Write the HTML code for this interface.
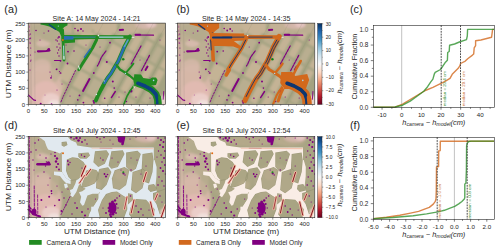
<!DOCTYPE html>
<html><head><meta charset="utf-8"><style>
html,body{margin:0;padding:0;background:#fff;width:500px;height:251px;overflow:hidden;}
svg{display:block;font-family:"Liberation Sans", sans-serif;}
</style></head><body>
<svg xmlns="http://www.w3.org/2000/svg" width="500" height="251" viewBox="0 0 500 251" font-family='"Liberation Sans", sans-serif'><defs><clipPath id="clip_a"><rect x="0" y="0" width="137.4" height="81.4"/></clipPath><filter id="mblur" x="-5%" y="-5%" width="110%" height="110%"><feGaussianBlur stdDeviation="0.4"/></filter><filter id="fblur" x="-10%" y="-10%" width="120%" height="120%"><feGaussianBlur stdDeviation="1.3"/></filter><clipPath id="clip_b"><rect x="0" y="0" width="137.4" height="81.4"/></clipPath><clipPath id="clip_d"><rect x="0" y="0" width="137.4" height="81.4"/></clipPath><mask id="wm_d" maskUnits="userSpaceOnUse" x="0" y="0" width="137.4" height="81.4"><polygon points="9.8,0.0 125.6,0.0 125.6,23.7 137.8,23.7 137.8,81.7 60.1,81.7 61.8,76.4 66.0,69.5 70.3,62.7 71.8,56.7 67.8,52.7 57.8,52.7 52.8,49.7 53.8,39.7 41.8,44.2 37.8,41.7 33.8,35.7 33.6,15.7 31.6,17.3 28.3,15.6 24.9,14.8 19.9,13.1 18.2,9.7 16.5,4.7" fill="#fff" /><polygon points="49.8,38.7 57.5,38.7 55.8,43.8 50.6,49.0 48.1,55.8 44.6,61.0 42.1,59.2 43.8,54.1 47.2,47.3" fill="#fff" /><polygon points="33.8,35.7 37.8,41.7 42.4,44.7 42.4,47.7 37.8,46.7 34.8,43.7 31.8,39.7 25.8,38.7 25.8,35.2" fill="#fff" /><polygon points="54.1,55.0 57.5,52.4 66.0,49.8 68.6,50.7 72.9,52.4 70.3,57.5 64.3,57.5 59.2,59.2 55.8,68.7 54.1,69.5 51.8,66.0 53.0,60.4 50.8,55.9" fill="#fff" /><polygon points="70.3,57.5 71.8,56.7 75.8,53.7 81.8,48.1 81.8,55.8 77.2,61.8 72.9,67.0 68.6,72.9 65.2,78.9 63.5,81.7 60.1,81.7 61.8,76.4 66.0,69.5 70.3,62.7" fill="#fff" /><polygon points="35.8,47.7 38.8,47.2 39.8,50.7 36.8,52.2" fill="#fff" /><polygon points="41.8,53.7 44.8,52.7 45.3,55.7 42.3,56.7" fill="#fff" /><polygon points="63.0,70.4 66.8,70.4 66.8,81.7 63.0,81.7" fill="#fff" /><polygon points="39.3,-2.3 127.8,-2.3 127.8,11.3 91.8,11.3 63.0,11.1 55.5,10.3 49.0,9.2 47.9,6.2 42.6,4.0 39.8,0.7" fill="#000" /><polygon points="126.0,-2.3 139.8,-2.3 139.8,69.7 134.8,69.7 130.8,62.7 128.8,56.7 127.3,49.7 128.3,39.7 128.4,30.7 126.3,23.7" fill="#000" /><polygon points="33.4,5.7 38.3,5.1 39.3,8.7 35.8,10.5 33.4,9.2" fill="#000" /><polygon points="50.1,16.9 60.3,16.1 61.8,19.2 58.3,22.5 51.8,22.2 50.1,20.2" fill="#000" /><polygon points="38.6,23.3 44.2,20.9 49.8,21.7 55.3,25.7 57.7,29.7 56.1,34.4 52.9,40.0 49.8,43.2 43.4,44.0 40.2,40.8 37.8,34.4 38.3,28.1" fill="#000" /><polygon points="57.7,34.4 63.3,32.8 68.1,33.7 70.5,36.8 69.7,42.4 66.5,47.2 60.9,49.6 56.1,51.2 52.9,50.4 54.5,45.6 56.9,39.2" fill="#000" /><polygon points="66.8,14.9 78.3,13.9 80.9,17.7 76.6,27.5 70.1,30.8 65.2,25.9" fill="#000" /><polygon points="71.1,32.6 79.9,31.0 83.2,35.7 78.3,48.7 73.4,53.7 67.8,52.0 68.3,42.2" fill="#000" /><polygon points="83.2,14.9 94.6,13.9 96.3,17.7 89.7,30.8 83.2,32.4 80.4,29.1" fill="#000" /><polygon points="86.5,34.0 96.3,30.8 101.2,34.0 97.9,48.7 91.4,53.7 84.8,52.0 83.7,42.2" fill="#000" /><polygon points="97.9,16.1 109.3,14.4 112.6,17.7 107.7,32.4 102.8,35.7 97.9,30.8" fill="#000" /><polygon points="104.4,35.7 114.3,32.4 118.3,35.7 114.3,52.0 107.7,56.9 102.8,53.7" fill="#000" /><polygon points="114.3,17.7 124.2,16.1 125.3,23.7 124.3,35.7 120.8,47.1 115.9,45.5 113.3,35.7" fill="#000" /><polygon points="120.3,48.7 125.8,47.7 128.3,51.7 128.2,54.1 122.3,55.7 119.6,52.7" fill="#000" /><polygon points="83.6,55.7 88.8,55.2 93.9,58.7 98.8,61.7 99.1,72.9 95.6,82.2 71.8,82.2 69.8,73.7 73.8,63.7 77.8,57.7" fill="#000" /><polygon points="107.6,62.7 117.9,63.5 126.5,72.9 124.8,82.2 104.2,82.2 100.8,78.1 102.5,71.2" fill="#000" /><polygon points="124.8,56.7 133.3,54.1 137.8,52.4 137.8,72.9 131.6,78.1 128.2,67.8 124.8,62.7" fill="#000" /><polygon points="99.8,57.0 104.3,57.7 104.8,63.7 99.8,68.2" fill="#000" /></mask><clipPath id="clip_e"><rect x="0" y="0" width="137.4" height="81.4"/></clipPath><mask id="wm_e" maskUnits="userSpaceOnUse" x="0" y="0" width="137.4" height="81.4"><polygon points="9.8,0.0 125.6,0.0 125.6,23.7 137.8,23.7 137.8,81.7 60.1,81.7 61.8,76.4 66.0,69.5 70.3,62.7 71.8,56.7 67.8,52.7 57.8,52.7 52.8,49.7 53.8,39.7 41.8,44.2 37.8,41.7 33.8,35.7 33.6,15.7 31.6,17.3 28.3,15.6 24.9,14.8 19.9,13.1 18.2,9.7 16.5,4.7" fill="#fff" /><polygon points="49.8,38.7 57.5,38.7 55.8,43.8 50.6,49.0 48.1,55.8 44.6,61.0 42.1,59.2 43.8,54.1 47.2,47.3" fill="#fff" /><polygon points="33.8,35.7 37.8,41.7 42.4,44.7 42.4,47.7 37.8,46.7 34.8,43.7 31.8,39.7 25.8,38.7 25.8,35.2" fill="#fff" /><polygon points="54.1,55.0 57.5,52.4 66.0,49.8 68.6,50.7 72.9,52.4 70.3,57.5 64.3,57.5 59.2,59.2 55.8,68.7 54.1,69.5 51.8,66.0 53.0,60.4 50.8,55.9" fill="#fff" /><polygon points="70.3,57.5 71.8,56.7 75.8,53.7 81.8,48.1 81.8,55.8 77.2,61.8 72.9,67.0 68.6,72.9 65.2,78.9 63.5,81.7 60.1,81.7 61.8,76.4 66.0,69.5 70.3,62.7" fill="#fff" /><polygon points="35.8,47.7 38.8,47.2 39.8,50.7 36.8,52.2" fill="#fff" /><polygon points="41.8,53.7 44.8,52.7 45.3,55.7 42.3,56.7" fill="#fff" /><polygon points="63.0,70.4 66.8,70.4 66.8,81.7 63.0,81.7" fill="#fff" /><polygon points="39.3,-2.3 127.8,-2.3 127.8,11.3 91.8,11.3 63.0,11.1 55.5,10.3 49.0,9.2 47.9,6.2 42.6,4.0 39.8,0.7" fill="#000" /><polygon points="126.0,-2.3 139.8,-2.3 139.8,69.7 134.8,69.7 130.8,62.7 128.8,56.7 127.3,49.7 128.3,39.7 128.4,30.7 126.3,23.7" fill="#000" /><polygon points="33.4,5.7 38.3,5.1 39.3,8.7 35.8,10.5 33.4,9.2" fill="#000" /><polygon points="50.1,16.9 60.3,16.1 61.8,19.2 58.3,22.5 51.8,22.2 50.1,20.2" fill="#000" /><polygon points="38.6,23.3 44.2,20.9 49.8,21.7 55.3,25.7 57.7,29.7 56.1,34.4 52.9,40.0 49.8,43.2 43.4,44.0 40.2,40.8 37.8,34.4 38.3,28.1" fill="#000" /><polygon points="57.7,34.4 63.3,32.8 68.1,33.7 70.5,36.8 69.7,42.4 66.5,47.2 60.9,49.6 56.1,51.2 52.9,50.4 54.5,45.6 56.9,39.2" fill="#000" /><polygon points="66.8,14.9 78.3,13.9 80.9,17.7 76.6,27.5 70.1,30.8 65.2,25.9" fill="#000" /><polygon points="71.1,32.6 79.9,31.0 83.2,35.7 78.3,48.7 73.4,53.7 67.8,52.0 68.3,42.2" fill="#000" /><polygon points="83.2,14.9 94.6,13.9 96.3,17.7 89.7,30.8 83.2,32.4 80.4,29.1" fill="#000" /><polygon points="86.5,34.0 96.3,30.8 101.2,34.0 97.9,48.7 91.4,53.7 84.8,52.0 83.7,42.2" fill="#000" /><polygon points="97.9,16.1 109.3,14.4 112.6,17.7 107.7,32.4 102.8,35.7 97.9,30.8" fill="#000" /><polygon points="104.4,35.7 114.3,32.4 118.3,35.7 114.3,52.0 107.7,56.9 102.8,53.7" fill="#000" /><polygon points="114.3,17.7 124.2,16.1 125.3,23.7 124.3,35.7 120.8,47.1 115.9,45.5 113.3,35.7" fill="#000" /><polygon points="120.3,48.7 125.8,47.7 128.3,51.7 128.2,54.1 122.3,55.7 119.6,52.7" fill="#000" /><polygon points="83.6,55.7 88.8,55.2 93.9,58.7 98.8,61.7 99.1,72.9 95.6,82.2 71.8,82.2 69.8,73.7 73.8,63.7 77.8,57.7" fill="#000" /><polygon points="107.6,62.7 117.9,63.5 126.5,72.9 124.8,82.2 104.2,82.2 100.8,78.1 102.5,71.2" fill="#000" /><polygon points="124.8,56.7 133.3,54.1 137.8,52.4 137.8,72.9 131.6,78.1 128.2,67.8 124.8,62.7" fill="#000" /><polygon points="99.8,57.0 104.3,57.7 104.8,63.7 99.8,68.2" fill="#000" /></mask><linearGradient id="cb23" x1="0" y1="1" x2="0" y2="0">
<stop offset="0" stop-color="#67001f"/><stop offset="0.1" stop-color="#b2182b"/><stop offset="0.2" stop-color="#d6604d"/>
<stop offset="0.3" stop-color="#f4a582"/><stop offset="0.4" stop-color="#fddbc7"/><stop offset="0.5" stop-color="#f7f7f7"/>
<stop offset="0.6" stop-color="#d1e5f0"/><stop offset="0.7" stop-color="#92c5de"/><stop offset="0.8" stop-color="#4393c3"/>
<stop offset="0.9" stop-color="#2166ac"/><stop offset="1" stop-color="#053061"/></linearGradient><linearGradient id="cb136" x1="0" y1="1" x2="0" y2="0">
<stop offset="0" stop-color="#67001f"/><stop offset="0.1" stop-color="#b2182b"/><stop offset="0.2" stop-color="#d6604d"/>
<stop offset="0.3" stop-color="#f4a582"/><stop offset="0.4" stop-color="#fddbc7"/><stop offset="0.5" stop-color="#f7f7f7"/>
<stop offset="0.6" stop-color="#d1e5f0"/><stop offset="0.7" stop-color="#92c5de"/><stop offset="0.8" stop-color="#4393c3"/>
<stop offset="0.9" stop-color="#2166ac"/><stop offset="1" stop-color="#053061"/></linearGradient></defs><g transform="translate(28.20,23.10)" clip-path="url(#clip_a)"><g filter="url(#mblur)"><rect x="0" y="0" width="137.4" height="81.4" fill="#a3a281"/>
<g filter="url(#fblur)"><polygon points="74.8,-29.3 85.2,-23.6 77.1,-8.6 66.7,-14.3" fill="#b9ae90" /><polygon points="65.6,-12.3 76.0,-6.6 67.9,8.4 57.5,2.7" fill="#c4b395" /><polygon points="56.4,4.7 66.8,10.4 58.6,25.7 48.2,20.0" fill="#c4b395" /><polygon points="47.1,22.0 57.5,27.7 49.2,43.0 38.8,37.3" fill="#b9ae90" /><polygon points="37.7,39.3 48.1,45.0 39.9,60.3 29.5,54.6" fill="#c4b395" /><polygon points="28.4,56.6 38.8,62.3 30.5,77.6 20.1,71.9" fill="#c4b395" /><polygon points="89.2,-21.4 98.6,-16.2 90.5,-1.2 81.1,-6.4" fill="#c4b395" /><polygon points="80.0,-4.4 89.4,0.8 81.3,15.8 71.9,10.6" fill="#c4b395" /><polygon points="70.8,12.6 80.2,17.8 72.0,33.1 62.6,27.9" fill="#b9ae90" /><polygon points="61.5,29.9 70.9,35.1 62.6,50.4 53.2,45.2" fill="#c4b395" /><polygon points="52.1,47.2 61.5,52.4 53.3,67.7 43.9,62.5" fill="#c4b395" /><polygon points="42.8,64.5 52.2,69.7 43.9,85.0 34.5,79.8" fill="#b9ae90" /><polygon points="102.6,-14.0 113.2,-8.2 105.1,6.8 94.5,1.0" fill="#c4b395" /><polygon points="93.4,3.0 104.0,8.8 95.9,23.8 85.3,18.0" fill="#b9ae90" /><polygon points="84.2,20.0 94.8,25.8 86.6,41.1 76.0,35.3" fill="#c4b395" /><polygon points="74.9,37.3 85.5,43.1 77.2,58.4 66.6,52.6" fill="#c4b395" /><polygon points="65.5,54.6 76.1,60.4 67.9,75.7 57.3,69.9" fill="#b9ae90" /><polygon points="56.2,71.9 66.8,77.7 58.5,93.0 47.9,87.2" fill="#c4b395" /><polygon points="117.2,-6.0 123.8,-2.4 115.7,12.6 109.1,9.0" fill="#b9ae90" /><polygon points="108.0,11.0 114.6,14.6 106.5,29.6 99.9,26.0" fill="#c4b395" /><polygon points="98.8,28.0 105.4,31.6 97.2,46.9 90.6,43.3" fill="#c4b395" /><polygon points="89.5,45.3 96.1,48.9 87.8,64.2 81.2,60.6" fill="#b9ae90" /><polygon points="80.1,62.6 86.7,66.2 78.5,81.5 71.9,77.9" fill="#c4b395" /><polygon points="70.8,79.9 77.4,83.5 69.1,98.8 62.5,95.2" fill="#c4b395" /><polygon points="127.8,-0.2 134.4,3.5 126.3,18.5 119.7,14.8" fill="#c4b395" /><polygon points="118.6,16.8 125.2,20.5 117.1,35.5 110.5,31.8" fill="#c4b395" /><polygon points="109.4,33.8 116.0,37.5 107.8,52.8 101.2,49.1" fill="#b9ae90" /><polygon points="100.1,51.1 106.7,54.8 98.4,70.1 91.8,66.4" fill="#c4b395" /><polygon points="90.7,68.4 97.3,72.1 89.1,87.4 82.5,83.7" fill="#c4b395" /><polygon points="81.4,85.7 88.0,89.4 79.7,104.7 73.1,101.0" fill="#b9ae90" /><polygon points="138.4,5.7 144.8,9.2 136.7,24.2 130.3,20.7" fill="#c4b395" /><polygon points="129.2,22.7 135.6,26.2 127.5,41.2 121.1,37.7" fill="#b9ae90" /><polygon points="120.0,39.7 126.4,43.2 118.2,58.5 111.8,55.0" fill="#c4b395" /><polygon points="110.7,57.0 117.1,60.5 108.8,75.8 102.4,72.3" fill="#c4b395" /><polygon points="101.3,74.3 107.7,77.8 99.5,93.1 93.1,89.6" fill="#b9ae90" /><polygon points="92.0,91.6 98.4,95.1 90.1,110.4 83.7,106.9" fill="#c4b395" /><polygon points="148.8,11.4 155.2,14.9 147.1,29.9 140.7,26.4" fill="#b9ae90" /><polygon points="139.6,28.4 146.0,31.9 137.9,46.9 131.5,43.4" fill="#c4b395" /><polygon points="130.4,45.4 136.8,48.9 128.6,64.2 122.2,60.7" fill="#c4b395" /><polygon points="121.1,62.7 127.5,66.2 119.2,81.5 112.8,78.0" fill="#b9ae90" /><polygon points="111.7,80.0 118.1,83.5 109.9,98.8 103.5,95.3" fill="#c4b395" /><polygon points="102.4,97.3 108.8,100.8 100.5,116.1 94.1,112.6" fill="#c4b395" /><polygon points="33.8,-2.1 43.8,-2.1 43.8,10.4 33.8,10.4" fill="#bfae90" /><polygon points="45.8,-2.1 63.8,-2.1 63.8,10.4 45.8,10.4" fill="#c2b092" /><polygon points="65.8,-2.1 88.8,-2.1 88.8,10.4 65.8,10.4" fill="#c6b396" /><polygon points="91.8,-2.1 110.8,-2.1 110.8,10.4 91.8,10.4" fill="#c3b195" /><polygon points="113.8,-2.1 137.8,-2.1 137.8,10.4 113.8,10.4" fill="#bcae92" /><polygon points="-10.2,-5.1 29.8,-5.1 32.8,10.9 31.8,36.9 29.8,56.9 31.8,86.9 -10.2,86.9" fill="#bcae92" /><ellipse cx="15.8" cy="64.9" rx="18" ry="24" fill="#d8b8aa" opacity="0.9"/><ellipse cx="17.8" cy="71.9" rx="14" ry="14" fill="#e2bab2" opacity="0.9"/><ellipse cx="22.8" cy="76.9" rx="9" ry="7" fill="#ecd0cc" opacity="0.9"/><ellipse cx="25.8" cy="80.9" rx="6" ry="4" fill="#f2e2de" opacity="0.9"/><ellipse cx="13.8" cy="42.9" rx="9" ry="7" fill="#d6b8aa" opacity="0.8"/><ellipse cx="14.8" cy="20.4" rx="7" ry="3.5" fill="#dabcb0" opacity="0.85"/><ellipse cx="2.8" cy="46.9" rx="4" ry="30" fill="#d4b8aa" opacity="0.7"/><ellipse cx="21.8" cy="11.9" rx="9" ry="7" fill="#b2aa8c" opacity="0.7"/><ellipse cx="26.8" cy="46.9" rx="5" ry="12" fill="#b4aa8c" opacity="0.6"/><ellipse cx="13.8" cy="6.9" rx="12" ry="6" fill="#b4ab8d" opacity="0.7"/><ellipse cx="117.8" cy="1.9" rx="11" ry="4" fill="#dab8b0" opacity="0.8"/><ellipse cx="122.8" cy="1.4" rx="5" ry="3" fill="#e6c4c2" opacity="0.9"/><ellipse cx="135.3" cy="77.9" rx="3.5" ry="6" fill="#ecd8d4" opacity="0.9"/></g>
<rect x="0" y="0" width="2.4" height="81.4" fill="#c8ab9e" opacity="0.8"/>
<polyline points="6.3,-0.1 6.8,81.9" fill="none" stroke="#9a8a7e" stroke-width="0.45" stroke-linecap="round" stroke-linejoin="round" opacity="0.6"/>
<polyline points="2.8,-0.1 3.1,81.9" fill="none" stroke="#9a8a7e" stroke-width="0.45" stroke-linecap="round" stroke-linejoin="round" opacity="0.6"/>
<polyline points="87.7,-23.5 32.0,79.7" fill="none" stroke="#8d8c6c" stroke-width="0.4" stroke-linecap="round" stroke-linejoin="round" opacity="0.5"/>
<polyline points="101.1,-16.1 45.4,87.1" fill="none" stroke="#8d8c6c" stroke-width="0.4" stroke-linecap="round" stroke-linejoin="round" opacity="0.5"/>
<polyline points="115.7,-8.1 60.0,95.1" fill="none" stroke="#8d8c6c" stroke-width="0.4" stroke-linecap="round" stroke-linejoin="round" opacity="0.5"/>
<polyline points="126.3,-2.3 70.6,100.9" fill="none" stroke="#8d8c6c" stroke-width="0.4" stroke-linecap="round" stroke-linejoin="round" opacity="0.5"/>
<polyline points="136.9,3.6 81.2,106.8" fill="none" stroke="#8d8c6c" stroke-width="0.4" stroke-linecap="round" stroke-linejoin="round" opacity="0.5"/>
<polyline points="147.3,9.3 91.6,112.5" fill="none" stroke="#8d8c6c" stroke-width="0.4" stroke-linecap="round" stroke-linejoin="round" opacity="0.5"/>
<circle cx="7.8" cy="7.4" r="0.8" fill="#800080" />
<circle cx="20.3" cy="7.9" r="0.8" fill="#800080" />
<circle cx="30.8" cy="13.9" r="0.9" fill="#800080" />
<circle cx="1.8" cy="15.5" r="0.7" fill="#800080" />
<circle cx="20.8" cy="25.9" r="0.9" fill="#800080" />
<circle cx="46.8" cy="5.4" r="0.8" fill="#800080" />
<circle cx="49.8" cy="7.4" r="0.9" fill="#800080" />
<circle cx="52.8" cy="5.9" r="1.0" fill="#800080" />
<circle cx="54.8" cy="7.9" r="0.7" fill="#800080" />
<circle cx="81.8" cy="19.6" r="0.9" fill="#800080" />
<circle cx="28.3" cy="46.3" r="0.8" fill="#800080" />
<circle cx="32.1" cy="49.9" r="0.8" fill="#800080" />
<circle cx="39.8" cy="28.5" r="0.9" fill="#800080" />
<circle cx="45.8" cy="27.9" r="0.8" fill="#800080" />
<circle cx="39.3" cy="40.4" r="0.9" fill="#800080" />
<circle cx="32.3" cy="37.7" r="0.9" fill="#800080" />
<circle cx="78.6" cy="38.9" r="1.0" fill="#800080" />
<circle cx="65.6" cy="49.9" r="0.9" fill="#800080" />
<circle cx="84.6" cy="58.4" r="1.0" fill="#800080" />
<circle cx="86.0" cy="65.0" r="0.8" fill="#800080" />
<circle cx="76.5" cy="75.1" r="0.8" fill="#800080" />
<circle cx="98.2" cy="78.4" r="0.8" fill="#800080" />
<circle cx="65.8" cy="79.6" r="1.0" fill="#800080" />
<circle cx="51.3" cy="72.3" r="0.9" fill="#800080" />
<circle cx="49.6" cy="76.8" r="0.8" fill="#800080" />
<circle cx="55.2" cy="79.5" r="0.9" fill="#800080" />
<circle cx="65.3" cy="77.9" r="1.0" fill="#800080" />
<circle cx="102.8" cy="67.9" r="1.5" fill="#800080" />
<circle cx="22.8" cy="54.7" r="0.9" fill="#800080" />
<circle cx="12.5" cy="80.7" r="1.0" fill="#800080" />
<circle cx="23.3" cy="80.9" r="0.8" fill="#800080" />
<circle cx="15.8" cy="9.9" r="0.5" fill="#800080" />
<circle cx="11.8" cy="16.9" r="0.5" fill="#800080" />
<circle cx="37.8" cy="21.9" r="0.5" fill="#800080" />
<circle cx="57.8" cy="21.9" r="0.5" fill="#800080" />
<circle cx="71.8" cy="23.9" r="0.5" fill="#800080" />
<circle cx="111.8" cy="36.9" r="0.5" fill="#800080" />
<circle cx="121.8" cy="54.9" r="0.5" fill="#800080" />
<circle cx="96.8" cy="68.9" r="0.5" fill="#800080" />
<circle cx="131.8" cy="16.9" r="0.5" fill="#800080" />
<circle cx="1.8" cy="46.9" r="0.6" fill="#800080" />
<circle cx="2.8" cy="36.9" r="0.5" fill="#800080" />
<circle cx="6.8" cy="28.9" r="0.5" fill="#800080" />
<circle cx="16.8" cy="71.9" r="0.4" fill="#800080" />
<circle cx="28.8" cy="66.9" r="0.5" fill="#800080" />
<circle cx="41.8" cy="72.9" r="0.5" fill="#800080" />
<circle cx="33.8" cy="60.9" r="0.5" fill="#800080" />
<circle cx="90.8" cy="73.9" r="0.6" fill="#800080" />
<circle cx="107.8" cy="73.9" r="0.6" fill="#800080" />
<circle cx="121.8" cy="74.9" r="0.6" fill="#800080" />
<circle cx="29.8" cy="14.9" r="0.65" fill="#800080" />
<circle cx="29.1" cy="17.9" r="0.65" fill="#800080" />
<circle cx="30.8" cy="20.9" r="0.65" fill="#800080" />
<circle cx="28.8" cy="23.9" r="0.65" fill="#800080" />
<circle cx="30.4" cy="26.9" r="0.65" fill="#800080" />
<circle cx="29.4" cy="29.9" r="0.65" fill="#800080" />
<circle cx="30.8" cy="32.9" r="0.65" fill="#800080" />
<circle cx="27.8" cy="16.9" r="0.65" fill="#800080" />
<circle cx="31.8" cy="24.9" r="0.65" fill="#800080" />
<circle cx="2.3" cy="10.9" r="0.6" fill="#800080" />
<circle cx="2.4" cy="14.9" r="0.6" fill="#800080" />
<circle cx="2.2" cy="19.9" r="0.6" fill="#800080" />
<circle cx="2.5" cy="24.9" r="0.6" fill="#800080" />
<circle cx="2.3" cy="31.9" r="0.6" fill="#800080" />
<circle cx="2.4" cy="37.9" r="0.6" fill="#800080" />
<polyline points="9.8,28.2 17.8,27.9 21.3,27.4" fill="none" stroke="#800080" stroke-width="2.2" stroke-linecap="round" stroke-linejoin="round" />
<circle cx="20.3" cy="26.7" r="1.5" fill="#800080" />
<polyline points="107.3,11.9 125.3,12.1" fill="none" stroke="#800080" stroke-width="1.2" stroke-linecap="round" stroke-linejoin="round" />
<polyline points="107.3,11.7 111.8,11.7" fill="none" stroke="#800080" stroke-width="2.0" stroke-linecap="round" stroke-linejoin="round" />
<polyline points="112.8,22.9 110.6,26.9 103.0,40.9" fill="none" stroke="#800080" stroke-width="1.2" stroke-linecap="round" stroke-linejoin="round" stroke-dasharray="2.5,1.2"/>
<polyline points="121.3,32.3 112.8,48.4" fill="none" stroke="#800080" stroke-width="1.2" stroke-linecap="round" stroke-linejoin="round" stroke-dasharray="2.5,1.2"/>
<polyline points="119.3,43.4 117.3,46.9" fill="none" stroke="#800080" stroke-width="2.0" stroke-linecap="round" stroke-linejoin="round" />
<polyline points="77.8,27.9 73.3,33.9 70.3,40.9 69.1,42.9" fill="none" stroke="#800080" stroke-width="1.2" stroke-linecap="round" stroke-linejoin="round" stroke-dasharray="3,1"/>
<polyline points="61.3,55.9 54.8,67.9" fill="none" stroke="#800080" stroke-width="1.9" stroke-linecap="round" stroke-linejoin="round" />
<polyline points="47.3,47.4 41.8,58.9 35.0,73.4 32.3,79.9" fill="none" stroke="#800080" stroke-width="0.9" stroke-linecap="round" stroke-linejoin="round" stroke-dasharray="1.6,1.4"/>
<circle cx="21.8" cy="48.9" r="0.6" fill="#800080" />
<circle cx="23.3" cy="52.9" r="0.6" fill="#800080" />
<circle cx="28.8" cy="45.9" r="0.6" fill="#800080" />
<circle cx="31.3" cy="48.4" r="0.6" fill="#800080" />
<circle cx="32.8" cy="49.9" r="0.6" fill="#800080" />
<polyline points="87.1,68.4 83.2,74.5" fill="none" stroke="#800080" stroke-width="1.4" stroke-linecap="round" stroke-linejoin="round" />
<polyline points="-0.2,71.7 3.1,74.5 5.4,76.8 7.3,77.3" fill="none" stroke="#800080" stroke-width="1.2" stroke-linecap="round" stroke-linejoin="round" />
<polyline points="26.3,37.4 32.3,37.4" fill="none" stroke="#800080" stroke-width="1.2" stroke-linecap="round" stroke-linejoin="round" />
<polyline points="135.5,68.4 135.0,76.2" fill="none" stroke="#800080" stroke-width="0.9" stroke-linecap="round" stroke-linejoin="round" />
<polyline points="94.8,6.7 91.6,6.9" fill="none" stroke="#800080" stroke-width="2.0" stroke-linecap="round" stroke-linejoin="round" />
<polyline points="1.3,2.9 1.5,21.9" fill="none" stroke="#800080" stroke-width="0.5" stroke-linecap="round" stroke-linejoin="round" stroke-dasharray="1.5,2.5" opacity="0.7"/>
<polygon points="12.3,-0.1 39.3,-0.1 39.3,2.1 36.1,3.9 34.2,5.9 34.0,9.9 34.4,12.9 32.9,12.9 31.1,9.0 28.3,7.2 25.6,5.8 21.0,3.5 16.4,2.1 12.3,1.5" fill="#228b22" />
<polyline points="21.0,1.5 27.4,6.2" fill="none" stroke="#0d3f80" stroke-width="1.3" stroke-linecap="round" stroke-linejoin="round" />
<circle cx="30.1" cy="3.0" r="0.6" fill="#a8d4ea" />
<polyline points="34.4,6.9 35.1,21.9 35.8,36.9" fill="none" stroke="#228b22" stroke-width="2.8" stroke-linecap="round" stroke-linejoin="round" />
<polyline points="35.4,22.9 35.8,35.9" fill="none" stroke="#a8d4ea" stroke-width="1.0" stroke-linecap="round" stroke-linejoin="round" />
<polyline points="35.7,33.4 35.8,36.1" fill="none" stroke="#f2f2f2" stroke-width="0.9" stroke-linecap="round" stroke-linejoin="round" />
<polygon points="33.3,11.9 102.8,12.1 103.3,15.7 66.8,15.8 46.8,16.5 46.8,19.4 36.8,20.1 33.3,17.9" fill="#228b22" />
<polygon points="35.8,12.9 45.3,13.1 45.3,16.5 35.8,16.7" fill="#2a6db5" />
<polyline points="45.3,14.1 67.8,14.0" fill="none" stroke="#3d86c6" stroke-width="0.8" stroke-linecap="round" stroke-linejoin="round" />
<polyline points="71.3,14.0 94.8,14.0" fill="none" stroke="#a8d4ea" stroke-width="1.2" stroke-linecap="round" stroke-linejoin="round" />
<polyline points="101.3,14.2 105.8,14.2" fill="none" stroke="#f0f0f0" stroke-width="0.9" stroke-linecap="round" stroke-linejoin="round" />
<circle cx="70.2" cy="12.5" r="0.8" fill="#f0f0f0" />
<polyline points="68.8,14.4 68.3,16.9 64.3,24.9 58.6,33.9 54.1,40.8 50.7,46.5" fill="none" stroke="#228b22" stroke-width="3.0" stroke-linecap="round" stroke-linejoin="round" />
<polyline points="62.0,26.0 56.3,34.0" fill="none" stroke="#2a6db5" stroke-width="1.6" stroke-linecap="round" stroke-linejoin="round" />
<polyline points="50.4,42.9 51.2,45.9" fill="none" stroke="#eef4f6" stroke-width="1.0" stroke-linecap="round" stroke-linejoin="round" />
<polyline points="101.8,13.4 100.4,15.9 96.1,23.9 90.1,37.9 82.8,50.4 79.3,54.9 76.3,59.9 72.6,66.9 69.6,72.9 67.6,77.4" fill="none" stroke="#228b22" stroke-width="3.9" stroke-linecap="round" stroke-linejoin="round" />
<polyline points="96.3,23.4 90.1,37.9 82.8,50.4 79.3,54.9 76.3,59.9" fill="none" stroke="#2a6db5" stroke-width="2.4" stroke-linecap="round" stroke-linejoin="round" />
<polyline points="99.8,16.9 96.3,23.4" fill="none" stroke="#5a9ac8" stroke-width="1.6" stroke-linecap="round" stroke-linejoin="round" />
<circle cx="76.0" cy="57.9" r="0.7" fill="#8fd0ee" />
<circle cx="68.2" cy="71.4" r="0.7" fill="#d8ecf0" />
<polyline points="88.3,41.9 91.8,46.4 96.8,49.4 101.8,52.9 106.1,56.6 109.7,58.4" fill="none" stroke="#228b22" stroke-width="2.2" stroke-linecap="round" stroke-linejoin="round" />
<polyline points="97.2,50.3 102.6,44.1 105.2,40.5" fill="none" stroke="#228b22" stroke-width="1.8" stroke-linecap="round" stroke-linejoin="round" />
<circle cx="97.2" cy="50.3" r="0.7" fill="#a8d4ea" />
<polyline points="106.1,62.0 101.8,67.9 99.0,72.7 95.4,81.9" fill="none" stroke="#228b22" stroke-width="1.6" stroke-linecap="round" stroke-linejoin="round" />
<polyline points="105.6,62.9 106.3,64.9" fill="none" stroke="#f0f0f0" stroke-width="0.8" stroke-linecap="round" stroke-linejoin="round" />
<polygon points="106.1,51.2 112.8,51.4 115.1,54.9 121.8,55.9 123.8,54.4 127.8,54.4 129.4,56.9 127.8,61.9 119.8,62.9 115.1,62.0 107.8,62.9 105.3,58.9" fill="#228b22" />
<circle cx="125.4" cy="57.3" r="0.8" fill="#a8d4ea" />
<polyline points="109.7,60.2 116.8,62.9 123.2,66.5 127.6,70.9 129.4,76.3 129.8,82.9" fill="none" stroke="#228b22" stroke-width="7.2" stroke-linecap="round" stroke-linejoin="round" />
<polyline points="109.7,60.2 116.8,62.9 123.2,66.5 127.6,70.9 129.4,76.3 129.8,82.9" fill="none" stroke="#0d3f80" stroke-width="3.6" stroke-linecap="round" stroke-linejoin="round" />
<polyline points="131.3,73.9 132.0,81.9" fill="none" stroke="#228b22" stroke-width="3.0" stroke-linecap="round" stroke-linejoin="round" />
<circle cx="95.0" cy="36.1" r="1.3" fill="#228b22" />
<circle cx="95.0" cy="36.1" r="0.5" fill="#1a5a1a" />
<circle cx="34.6" cy="16.9" r="1.0" fill="#e06a10" /></g></g>
<g transform="translate(177.40,23.10)" clip-path="url(#clip_b)"><g filter="url(#mblur)"><rect x="0" y="0" width="137.4" height="81.4" fill="#a3a281"/>
<g filter="url(#fblur)"><polygon points="74.8,-29.3 85.2,-23.6 77.1,-8.6 66.7,-14.3" fill="#b9ae90" /><polygon points="65.6,-12.3 76.0,-6.6 67.9,8.4 57.5,2.7" fill="#c4b395" /><polygon points="56.4,4.7 66.8,10.4 58.6,25.7 48.2,20.0" fill="#c4b395" /><polygon points="47.1,22.0 57.5,27.7 49.2,43.0 38.8,37.3" fill="#b9ae90" /><polygon points="37.7,39.3 48.1,45.0 39.9,60.3 29.5,54.6" fill="#c4b395" /><polygon points="28.4,56.6 38.8,62.3 30.5,77.6 20.1,71.9" fill="#c4b395" /><polygon points="89.2,-21.4 98.6,-16.2 90.5,-1.2 81.1,-6.4" fill="#c4b395" /><polygon points="80.0,-4.4 89.4,0.8 81.3,15.8 71.9,10.6" fill="#c4b395" /><polygon points="70.8,12.6 80.2,17.8 72.0,33.1 62.6,27.9" fill="#b9ae90" /><polygon points="61.5,29.9 70.9,35.1 62.6,50.4 53.2,45.2" fill="#c4b395" /><polygon points="52.1,47.2 61.5,52.4 53.3,67.7 43.9,62.5" fill="#c4b395" /><polygon points="42.8,64.5 52.2,69.7 43.9,85.0 34.5,79.8" fill="#b9ae90" /><polygon points="102.6,-14.0 113.2,-8.2 105.1,6.8 94.5,1.0" fill="#c4b395" /><polygon points="93.4,3.0 104.0,8.8 95.9,23.8 85.3,18.0" fill="#b9ae90" /><polygon points="84.2,20.0 94.8,25.8 86.6,41.1 76.0,35.3" fill="#c4b395" /><polygon points="74.9,37.3 85.5,43.1 77.2,58.4 66.6,52.6" fill="#c4b395" /><polygon points="65.5,54.6 76.1,60.4 67.9,75.7 57.3,69.9" fill="#b9ae90" /><polygon points="56.2,71.9 66.8,77.7 58.5,93.0 47.9,87.2" fill="#c4b395" /><polygon points="117.2,-6.0 123.8,-2.4 115.7,12.6 109.1,9.0" fill="#b9ae90" /><polygon points="108.0,11.0 114.6,14.6 106.5,29.6 99.9,26.0" fill="#c4b395" /><polygon points="98.8,28.0 105.4,31.6 97.2,46.9 90.6,43.3" fill="#c4b395" /><polygon points="89.5,45.3 96.1,48.9 87.8,64.2 81.2,60.6" fill="#b9ae90" /><polygon points="80.1,62.6 86.7,66.2 78.5,81.5 71.9,77.9" fill="#c4b395" /><polygon points="70.8,79.9 77.4,83.5 69.1,98.8 62.5,95.2" fill="#c4b395" /><polygon points="127.8,-0.2 134.4,3.5 126.3,18.5 119.7,14.8" fill="#c4b395" /><polygon points="118.6,16.8 125.2,20.5 117.1,35.5 110.5,31.8" fill="#c4b395" /><polygon points="109.4,33.8 116.0,37.5 107.8,52.8 101.2,49.1" fill="#b9ae90" /><polygon points="100.1,51.1 106.7,54.8 98.4,70.1 91.8,66.4" fill="#c4b395" /><polygon points="90.7,68.4 97.3,72.1 89.1,87.4 82.5,83.7" fill="#c4b395" /><polygon points="81.4,85.7 88.0,89.4 79.7,104.7 73.1,101.0" fill="#b9ae90" /><polygon points="138.4,5.7 144.8,9.2 136.7,24.2 130.3,20.7" fill="#c4b395" /><polygon points="129.2,22.7 135.6,26.2 127.5,41.2 121.1,37.7" fill="#b9ae90" /><polygon points="120.0,39.7 126.4,43.2 118.2,58.5 111.8,55.0" fill="#c4b395" /><polygon points="110.7,57.0 117.1,60.5 108.8,75.8 102.4,72.3" fill="#c4b395" /><polygon points="101.3,74.3 107.7,77.8 99.5,93.1 93.1,89.6" fill="#b9ae90" /><polygon points="92.0,91.6 98.4,95.1 90.1,110.4 83.7,106.9" fill="#c4b395" /><polygon points="148.8,11.4 155.2,14.9 147.1,29.9 140.7,26.4" fill="#b9ae90" /><polygon points="139.6,28.4 146.0,31.9 137.9,46.9 131.5,43.4" fill="#c4b395" /><polygon points="130.4,45.4 136.8,48.9 128.6,64.2 122.2,60.7" fill="#c4b395" /><polygon points="121.1,62.7 127.5,66.2 119.2,81.5 112.8,78.0" fill="#b9ae90" /><polygon points="111.7,80.0 118.1,83.5 109.9,98.8 103.5,95.3" fill="#c4b395" /><polygon points="102.4,97.3 108.8,100.8 100.5,116.1 94.1,112.6" fill="#c4b395" /><polygon points="33.8,-2.1 43.8,-2.1 43.8,10.4 33.8,10.4" fill="#bfae90" /><polygon points="45.8,-2.1 63.8,-2.1 63.8,10.4 45.8,10.4" fill="#c2b092" /><polygon points="65.8,-2.1 88.8,-2.1 88.8,10.4 65.8,10.4" fill="#c6b396" /><polygon points="91.8,-2.1 110.8,-2.1 110.8,10.4 91.8,10.4" fill="#c3b195" /><polygon points="113.8,-2.1 137.8,-2.1 137.8,10.4 113.8,10.4" fill="#bcae92" /><polygon points="-10.2,-5.1 29.8,-5.1 32.8,10.9 31.8,36.9 29.8,56.9 31.8,86.9 -10.2,86.9" fill="#bcae92" /><ellipse cx="15.8" cy="64.9" rx="18" ry="24" fill="#d8b8aa" opacity="0.9"/><ellipse cx="17.8" cy="71.9" rx="14" ry="14" fill="#e2bab2" opacity="0.9"/><ellipse cx="22.8" cy="76.9" rx="9" ry="7" fill="#ecd0cc" opacity="0.9"/><ellipse cx="25.8" cy="80.9" rx="6" ry="4" fill="#f2e2de" opacity="0.9"/><ellipse cx="13.8" cy="42.9" rx="9" ry="7" fill="#d6b8aa" opacity="0.8"/><ellipse cx="14.8" cy="20.4" rx="7" ry="3.5" fill="#dabcb0" opacity="0.85"/><ellipse cx="2.8" cy="46.9" rx="4" ry="30" fill="#d4b8aa" opacity="0.7"/><ellipse cx="21.8" cy="11.9" rx="9" ry="7" fill="#b2aa8c" opacity="0.7"/><ellipse cx="26.8" cy="46.9" rx="5" ry="12" fill="#b4aa8c" opacity="0.6"/><ellipse cx="13.8" cy="6.9" rx="12" ry="6" fill="#b4ab8d" opacity="0.7"/><ellipse cx="117.8" cy="1.9" rx="11" ry="4" fill="#dab8b0" opacity="0.8"/><ellipse cx="122.8" cy="1.4" rx="5" ry="3" fill="#e6c4c2" opacity="0.9"/><ellipse cx="135.3" cy="77.9" rx="3.5" ry="6" fill="#ecd8d4" opacity="0.9"/></g>
<rect x="0" y="0" width="2.4" height="81.4" fill="#c8ab9e" opacity="0.8"/>
<polyline points="6.3,-0.1 6.8,81.9" fill="none" stroke="#9a8a7e" stroke-width="0.45" stroke-linecap="round" stroke-linejoin="round" opacity="0.6"/>
<polyline points="2.8,-0.1 3.1,81.9" fill="none" stroke="#9a8a7e" stroke-width="0.45" stroke-linecap="round" stroke-linejoin="round" opacity="0.6"/>
<polyline points="87.7,-23.5 32.0,79.7" fill="none" stroke="#8d8c6c" stroke-width="0.4" stroke-linecap="round" stroke-linejoin="round" opacity="0.5"/>
<polyline points="101.1,-16.1 45.4,87.1" fill="none" stroke="#8d8c6c" stroke-width="0.4" stroke-linecap="round" stroke-linejoin="round" opacity="0.5"/>
<polyline points="115.7,-8.1 60.0,95.1" fill="none" stroke="#8d8c6c" stroke-width="0.4" stroke-linecap="round" stroke-linejoin="round" opacity="0.5"/>
<polyline points="126.3,-2.3 70.6,100.9" fill="none" stroke="#8d8c6c" stroke-width="0.4" stroke-linecap="round" stroke-linejoin="round" opacity="0.5"/>
<polyline points="136.9,3.6 81.2,106.8" fill="none" stroke="#8d8c6c" stroke-width="0.4" stroke-linecap="round" stroke-linejoin="round" opacity="0.5"/>
<polyline points="147.3,9.3 91.6,112.5" fill="none" stroke="#8d8c6c" stroke-width="0.4" stroke-linecap="round" stroke-linejoin="round" opacity="0.5"/>
<circle cx="7.8" cy="7.4" r="0.8" fill="#800080" />
<circle cx="20.3" cy="7.9" r="0.8" fill="#800080" />
<circle cx="30.8" cy="13.9" r="0.9" fill="#800080" />
<circle cx="1.8" cy="15.5" r="0.7" fill="#800080" />
<circle cx="20.8" cy="25.9" r="0.9" fill="#800080" />
<circle cx="46.8" cy="5.4" r="0.8" fill="#800080" />
<circle cx="49.8" cy="7.4" r="0.9" fill="#800080" />
<circle cx="52.8" cy="5.9" r="1.0" fill="#800080" />
<circle cx="54.8" cy="7.9" r="0.7" fill="#800080" />
<circle cx="81.8" cy="19.6" r="0.9" fill="#800080" />
<circle cx="28.3" cy="46.3" r="0.8" fill="#800080" />
<circle cx="32.1" cy="49.9" r="0.8" fill="#800080" />
<circle cx="39.8" cy="28.5" r="0.9" fill="#800080" />
<circle cx="45.8" cy="27.9" r="0.8" fill="#800080" />
<circle cx="39.3" cy="40.4" r="0.9" fill="#800080" />
<circle cx="32.3" cy="37.7" r="0.9" fill="#800080" />
<circle cx="78.6" cy="38.9" r="1.0" fill="#800080" />
<circle cx="65.6" cy="49.9" r="0.9" fill="#800080" />
<circle cx="84.6" cy="58.4" r="1.0" fill="#800080" />
<circle cx="86.0" cy="65.0" r="0.8" fill="#800080" />
<circle cx="76.5" cy="75.1" r="0.8" fill="#800080" />
<circle cx="98.2" cy="78.4" r="0.8" fill="#800080" />
<circle cx="65.8" cy="79.6" r="1.0" fill="#800080" />
<circle cx="51.3" cy="72.3" r="0.9" fill="#800080" />
<circle cx="49.6" cy="76.8" r="0.8" fill="#800080" />
<circle cx="55.2" cy="79.5" r="0.9" fill="#800080" />
<circle cx="65.3" cy="77.9" r="1.0" fill="#800080" />
<circle cx="102.8" cy="67.9" r="1.5" fill="#800080" />
<circle cx="22.8" cy="54.7" r="0.9" fill="#800080" />
<circle cx="12.5" cy="80.7" r="1.0" fill="#800080" />
<circle cx="23.3" cy="80.9" r="0.8" fill="#800080" />
<circle cx="15.8" cy="9.9" r="0.5" fill="#800080" />
<circle cx="11.8" cy="16.9" r="0.5" fill="#800080" />
<circle cx="37.8" cy="21.9" r="0.5" fill="#800080" />
<circle cx="57.8" cy="21.9" r="0.5" fill="#800080" />
<circle cx="71.8" cy="23.9" r="0.5" fill="#800080" />
<circle cx="111.8" cy="36.9" r="0.5" fill="#800080" />
<circle cx="121.8" cy="54.9" r="0.5" fill="#800080" />
<circle cx="96.8" cy="68.9" r="0.5" fill="#800080" />
<circle cx="131.8" cy="16.9" r="0.5" fill="#800080" />
<circle cx="1.8" cy="46.9" r="0.6" fill="#800080" />
<circle cx="2.8" cy="36.9" r="0.5" fill="#800080" />
<circle cx="6.8" cy="28.9" r="0.5" fill="#800080" />
<circle cx="16.8" cy="71.9" r="0.4" fill="#800080" />
<circle cx="28.8" cy="66.9" r="0.5" fill="#800080" />
<circle cx="41.8" cy="72.9" r="0.5" fill="#800080" />
<circle cx="33.8" cy="60.9" r="0.5" fill="#800080" />
<circle cx="90.8" cy="73.9" r="0.6" fill="#800080" />
<circle cx="107.8" cy="73.9" r="0.6" fill="#800080" />
<circle cx="121.8" cy="74.9" r="0.6" fill="#800080" />
<circle cx="29.8" cy="14.9" r="0.65" fill="#800080" />
<circle cx="29.1" cy="17.9" r="0.65" fill="#800080" />
<circle cx="30.8" cy="20.9" r="0.65" fill="#800080" />
<circle cx="28.8" cy="23.9" r="0.65" fill="#800080" />
<circle cx="30.4" cy="26.9" r="0.65" fill="#800080" />
<circle cx="29.4" cy="29.9" r="0.65" fill="#800080" />
<circle cx="30.8" cy="32.9" r="0.65" fill="#800080" />
<circle cx="27.8" cy="16.9" r="0.65" fill="#800080" />
<circle cx="31.8" cy="24.9" r="0.65" fill="#800080" />
<circle cx="2.3" cy="10.9" r="0.6" fill="#800080" />
<circle cx="2.4" cy="14.9" r="0.6" fill="#800080" />
<circle cx="2.2" cy="19.9" r="0.6" fill="#800080" />
<circle cx="2.5" cy="24.9" r="0.6" fill="#800080" />
<circle cx="2.3" cy="31.9" r="0.6" fill="#800080" />
<circle cx="2.4" cy="37.9" r="0.6" fill="#800080" />
<polyline points="9.8,28.2 17.8,27.9 21.3,27.4" fill="none" stroke="#800080" stroke-width="2.2" stroke-linecap="round" stroke-linejoin="round" />
<circle cx="20.3" cy="26.7" r="1.5" fill="#800080" />
<polyline points="107.3,11.9 125.3,12.1" fill="none" stroke="#800080" stroke-width="1.2" stroke-linecap="round" stroke-linejoin="round" />
<polyline points="107.3,11.7 111.8,11.7" fill="none" stroke="#800080" stroke-width="2.0" stroke-linecap="round" stroke-linejoin="round" />
<polyline points="112.8,22.9 110.6,26.9 103.0,40.9" fill="none" stroke="#800080" stroke-width="1.2" stroke-linecap="round" stroke-linejoin="round" stroke-dasharray="2.5,1.2"/>
<polyline points="121.3,32.3 112.8,48.4" fill="none" stroke="#800080" stroke-width="1.2" stroke-linecap="round" stroke-linejoin="round" stroke-dasharray="2.5,1.2"/>
<polyline points="119.3,43.4 117.3,46.9" fill="none" stroke="#800080" stroke-width="2.0" stroke-linecap="round" stroke-linejoin="round" />
<polyline points="77.8,27.9 73.3,33.9 70.3,40.9 69.1,42.9" fill="none" stroke="#800080" stroke-width="1.2" stroke-linecap="round" stroke-linejoin="round" stroke-dasharray="3,1"/>
<polyline points="61.3,55.9 54.8,67.9" fill="none" stroke="#800080" stroke-width="1.9" stroke-linecap="round" stroke-linejoin="round" />
<polyline points="47.3,47.4 41.8,58.9 35.0,73.4 32.3,79.9" fill="none" stroke="#800080" stroke-width="0.9" stroke-linecap="round" stroke-linejoin="round" stroke-dasharray="1.6,1.4"/>
<circle cx="21.8" cy="48.9" r="0.6" fill="#800080" />
<circle cx="23.3" cy="52.9" r="0.6" fill="#800080" />
<circle cx="28.8" cy="45.9" r="0.6" fill="#800080" />
<circle cx="31.3" cy="48.4" r="0.6" fill="#800080" />
<circle cx="32.8" cy="49.9" r="0.6" fill="#800080" />
<polyline points="87.1,68.4 83.2,74.5" fill="none" stroke="#800080" stroke-width="1.4" stroke-linecap="round" stroke-linejoin="round" />
<polyline points="-0.2,71.7 3.1,74.5 5.4,76.8 7.3,77.3" fill="none" stroke="#800080" stroke-width="1.2" stroke-linecap="round" stroke-linejoin="round" />
<polyline points="26.3,37.4 32.3,37.4" fill="none" stroke="#800080" stroke-width="1.2" stroke-linecap="round" stroke-linejoin="round" />
<polyline points="135.5,68.4 135.0,76.2" fill="none" stroke="#800080" stroke-width="0.9" stroke-linecap="round" stroke-linejoin="round" />
<polyline points="94.8,6.7 91.6,6.9" fill="none" stroke="#800080" stroke-width="2.0" stroke-linecap="round" stroke-linejoin="round" />
<polyline points="1.3,2.9 1.5,21.9" fill="none" stroke="#800080" stroke-width="0.5" stroke-linecap="round" stroke-linejoin="round" stroke-dasharray="1.5,2.5" opacity="0.7"/>
<polygon points="12.3,-0.1 39.3,-0.1 39.3,2.1 36.1,3.9 34.2,5.9 34.0,9.9 34.4,12.9 32.9,12.9 31.1,9.0 28.3,7.2 25.6,5.8 21.0,3.5 16.4,2.1 12.3,1.5" fill="#d2691e" />
<polygon points="18.8,-0.1 41.8,-0.1 41.8,4.9 37.8,7.9 35.8,9.9 31.8,7.9 26.8,6.4 21.8,3.9" fill="#d2691e" />
<polyline points="21.0,1.5 27.4,6.2" fill="none" stroke="#0a3570" stroke-width="1.3" stroke-linecap="round" stroke-linejoin="round" />
<circle cx="30.1" cy="3.0" r="0.6" fill="#a8d4ea" />
<polyline points="34.4,6.9 35.1,21.9 35.8,36.9" fill="none" stroke="#d2691e" stroke-width="3.6399999999999997" stroke-linecap="round" stroke-linejoin="round" />
<polyline points="35.0,9.9 35.4,21.9" fill="none" stroke="#0a3570" stroke-width="1.0" stroke-linecap="round" stroke-linejoin="round" />
<polygon points="33.3,11.9 102.8,12.1 103.3,15.7 66.8,15.8 46.8,16.5 46.8,19.4 36.8,20.1 33.3,17.9" fill="#d2691e" />
<polygon points="32.8,9.9 66.8,10.4 66.8,17.4 46.8,18.4 46.8,22.9 34.8,22.9 32.3,17.9" fill="#d2691e" />
<polygon points="35.4,15.9 54.0,16.2 59.8,20.4 63.8,23.4 62.3,25.9 55.8,23.4 41.8,22.9 35.4,22.7" fill="#d2691e" />
<polyline points="35.6,14.5 54.0,14.4" fill="none" stroke="#0a3570" stroke-width="2.0" stroke-linecap="round" stroke-linejoin="round" />
<polyline points="115.3,52.9 119.3,44.9 123.3,37.9" fill="none" stroke="#d2691e" stroke-width="2.6" stroke-linecap="round" stroke-linejoin="round" />
<polyline points="106.8,62.9 102.8,71.9 100.8,77.9" fill="none" stroke="#d2691e" stroke-width="3.0" stroke-linecap="round" stroke-linejoin="round" />
<polyline points="33.3,16.9 33.8,26.9" fill="none" stroke="#0a3570" stroke-width="0.9" stroke-linecap="round" stroke-linejoin="round" />
<polyline points="45.3,14.1 67.8,14.0" fill="none" stroke="#0a3570" stroke-width="0.8" stroke-linecap="round" stroke-linejoin="round" />
<polyline points="71.3,14.0 94.8,14.0" fill="none" stroke="#0a3570" stroke-width="0.8" stroke-linecap="round" stroke-linejoin="round" />
<polyline points="101.3,14.2 105.8,14.2" fill="none" stroke="#f0f0f0" stroke-width="0.9" stroke-linecap="round" stroke-linejoin="round" />
<circle cx="70.2" cy="12.5" r="0.8" fill="#f0f0f0" />
<polyline points="68.8,14.4 68.3,16.9 64.3,24.9 58.6,33.9 54.1,40.8 50.7,46.5" fill="none" stroke="#d2691e" stroke-width="3.9000000000000004" stroke-linecap="round" stroke-linejoin="round" />
<polyline points="68.3,16.9 64.3,24.9 58.6,33.9 54.1,40.8 51.8,44.9" fill="none" stroke="#0a3570" stroke-width="0.9" stroke-linecap="round" stroke-linejoin="round" />
<polyline points="51.8,46.9 48.8,51.9" fill="none" stroke="#d2691e" stroke-width="3.5" stroke-linecap="round" stroke-linejoin="round" />
<polyline points="101.8,13.4 100.4,15.9 96.1,23.9 90.1,37.9 82.8,50.4 79.3,54.9 76.3,59.9 72.6,66.9 69.6,72.9 67.6,77.4" fill="none" stroke="#d2691e" stroke-width="5.07" stroke-linecap="round" stroke-linejoin="round" />
<polyline points="99.4,16.9 95.2,24.4 89.3,37.9 82.1,50.4 78.6,54.9 75.4,60.4 71.8,67.4 68.8,73.4" fill="none" stroke="#0a3570" stroke-width="0.9" stroke-linecap="round" stroke-linejoin="round" />
<polyline points="101.2,17.9 97.0,25.4 91.0,38.9 83.8,51.4 80.2,55.9" fill="none" stroke="#0a3570" stroke-width="0.8" stroke-linecap="round" stroke-linejoin="round" />
<polyline points="88.3,41.9 91.8,46.4 96.8,49.4 101.8,52.9 106.1,56.6 109.7,58.4" fill="none" stroke="#d2691e" stroke-width="2.8600000000000003" stroke-linecap="round" stroke-linejoin="round" />
<polyline points="97.2,50.3 102.6,44.1 105.2,40.5" fill="none" stroke="#d2691e" stroke-width="2.3400000000000003" stroke-linecap="round" stroke-linejoin="round" />
<circle cx="97.2" cy="50.3" r="0.7" fill="#a8d4ea" />
<polyline points="106.1,62.0 101.8,67.9 99.0,72.7 95.4,81.9" fill="none" stroke="#d2691e" stroke-width="2.08" stroke-linecap="round" stroke-linejoin="round" />
<polyline points="105.6,62.9 106.3,64.9" fill="none" stroke="#f0f0f0" stroke-width="0.8" stroke-linecap="round" stroke-linejoin="round" />
<polygon points="106.1,51.2 112.8,51.4 115.1,54.9 121.8,55.9 123.8,54.4 127.8,54.4 129.4,56.9 127.8,61.9 119.8,62.9 115.1,62.0 107.8,62.9 105.3,58.9" fill="#d2691e" />
<polygon points="103.8,48.9 114.8,48.9 117.8,52.9 129.8,50.9 131.8,56.9 128.8,64.9 117.8,65.9 106.8,65.9 102.8,59.9" fill="#d2691e" />
<circle cx="125.4" cy="57.3" r="0.8" fill="#a8d4ea" />
<polyline points="109.7,60.2 116.8,62.9 123.2,66.5 127.6,70.9 129.4,76.3 129.8,82.9" fill="none" stroke="#d2691e" stroke-width="9.360000000000001" stroke-linecap="round" stroke-linejoin="round" />
<polyline points="109.7,60.2 116.8,62.9 123.2,66.5 127.6,70.9 129.4,76.3 129.8,82.9" fill="none" stroke="#0a3570" stroke-width="3.6" stroke-linecap="round" stroke-linejoin="round" />
<polyline points="131.3,73.9 132.0,81.9" fill="none" stroke="#d2691e" stroke-width="3.9000000000000004" stroke-linecap="round" stroke-linejoin="round" />
<circle cx="95.0" cy="36.1" r="1.3" fill="#228b22" />
<circle cx="95.0" cy="36.1" r="0.5" fill="#1a5a1a" />
<circle cx="34.6" cy="16.9" r="1.0" fill="#e06a10" /></g></g>
<g transform="translate(28.20,136.30)" clip-path="url(#clip_d)"><g filter="url(#mblur)"><rect x="0" y="0" width="137.4" height="81.4" fill="#a8a483"/>
<g filter="url(#fblur)"><ellipse cx="51.8" cy="36.9" rx="25" ry="25" fill="#aea686" opacity="0.7"/><ellipse cx="96.8" cy="46.9" rx="20" ry="20" fill="#b4a98b" opacity="0.7"/><ellipse cx="121.8" cy="26.9" rx="12" ry="25" fill="#aaa586" opacity="0.6"/><ellipse cx="81.8" cy="71.9" rx="15" ry="10" fill="#b2a889" opacity="0.6"/><ellipse cx="71.8" cy="4.9" rx="25" ry="5" fill="#b8aa8c" opacity="0.7"/><ellipse cx="111.8" cy="4.9" rx="15" ry="5" fill="#bcac90" opacity="0.7"/><ellipse cx="66.8" cy="48.9" rx="6" ry="5" fill="#bcad90" opacity="0.6"/><ellipse cx="91.8" cy="38.9" rx="5" ry="5" fill="#bcad90" opacity="0.6"/><polygon points="-10.2,-5.1 29.8,-5.1 32.8,10.9 31.8,36.9 29.8,56.9 31.8,86.9 -10.2,86.9" fill="#bcae92" /><ellipse cx="15.8" cy="64.9" rx="18" ry="24" fill="#d8b8aa" opacity="0.9"/><ellipse cx="17.8" cy="71.9" rx="14" ry="14" fill="#e2bab2" opacity="0.9"/><ellipse cx="22.8" cy="76.9" rx="9" ry="7" fill="#ecd0cc" opacity="0.9"/><ellipse cx="25.8" cy="80.9" rx="6" ry="4" fill="#f2e2de" opacity="0.9"/><ellipse cx="13.8" cy="42.9" rx="9" ry="7" fill="#d6b8aa" opacity="0.8"/><ellipse cx="14.8" cy="20.4" rx="7" ry="3.5" fill="#dabcb0" opacity="0.85"/><ellipse cx="2.8" cy="46.9" rx="4" ry="30" fill="#d4b8aa" opacity="0.7"/><ellipse cx="21.8" cy="11.9" rx="9" ry="7" fill="#b2aa8c" opacity="0.7"/><ellipse cx="26.8" cy="46.9" rx="5" ry="12" fill="#b4aa8c" opacity="0.6"/><ellipse cx="13.8" cy="6.9" rx="12" ry="6" fill="#b4ab8d" opacity="0.7"/><ellipse cx="117.8" cy="1.9" rx="11" ry="4" fill="#dab8b0" opacity="0.8"/><ellipse cx="122.8" cy="1.4" rx="5" ry="3" fill="#e6c4c2" opacity="0.9"/><ellipse cx="135.3" cy="77.9" rx="3.5" ry="6" fill="#ecd8d4" opacity="0.9"/></g>
<rect x="0" y="0" width="2.4" height="81.4" fill="#c8ab9e" opacity="0.8"/>
<polyline points="6.3,-0.1 6.8,81.9" fill="none" stroke="#9a8a7e" stroke-width="0.45" stroke-linecap="round" stroke-linejoin="round" opacity="0.6"/>
<polyline points="2.8,-0.1 3.1,81.9" fill="none" stroke="#9a8a7e" stroke-width="0.45" stroke-linecap="round" stroke-linejoin="round" opacity="0.6"/>
<circle cx="6.8" cy="6.7" r="0.8" fill="#800080" />
<circle cx="10.3" cy="3.7" r="0.7" fill="#800080" />
<circle cx="13.8" cy="1.7" r="0.6" fill="#800080" />
<circle cx="7.8" cy="13.7" r="0.7" fill="#800080" />
<circle cx="2.8" cy="15.7" r="0.8" fill="#800080" />
<circle cx="11.8" cy="18.7" r="0.6" fill="#800080" />
<circle cx="4.8" cy="23.7" r="0.7" fill="#800080" />
<circle cx="17.8" cy="21.7" r="0.8" fill="#800080" />
<circle cx="18.3" cy="25.7" r="0.8" fill="#800080" />
<circle cx="17.3" cy="29.7" r="0.7" fill="#800080" />
<circle cx="26.8" cy="19.7" r="1.1" fill="#800080" />
<circle cx="28.8" cy="22.2" r="1.2" fill="#800080" />
<circle cx="27.8" cy="25.2" r="1.2" fill="#800080" />
<circle cx="29.8" cy="27.7" r="1.1" fill="#800080" />
<circle cx="28.3" cy="30.7" r="1.0" fill="#800080" />
<circle cx="30.8" cy="33.2" r="0.9" fill="#800080" />
<circle cx="26.8" cy="16.2" r="0.8" fill="#800080" />
<circle cx="22.8" cy="17.7" r="0.6" fill="#800080" />
<circle cx="5.8" cy="33.7" r="0.6" fill="#800080" />
<circle cx="9.8" cy="39.7" r="0.6" fill="#800080" />
<circle cx="15.8" cy="35.7" r="0.7" fill="#800080" />
<circle cx="21.8" cy="41.7" r="0.6" fill="#800080" />
<circle cx="42.8" cy="1.2" r="0.9" fill="#800080" />
<circle cx="45.8" cy="2.7" r="0.8" fill="#800080" />
<circle cx="48.3" cy="1.7" r="1.2" fill="#800080" />
<circle cx="50.3" cy="4.2" r="1.3" fill="#800080" />
<circle cx="51.8" cy="1.7" r="1.0" fill="#800080" />
<circle cx="53.8" cy="5.7" r="0.9" fill="#800080" />
<circle cx="56.8" cy="3.7" r="0.8" fill="#800080" />
<circle cx="58.8" cy="7.7" r="0.7" fill="#800080" />
<circle cx="44.8" cy="6.7" r="0.7" fill="#800080" />
<circle cx="68.8" cy="1.2" r="0.8" fill="#800080" />
<circle cx="71.8" cy="2.7" r="0.7" fill="#800080" />
<circle cx="75.8" cy="1.2" r="0.8" fill="#800080" />
<circle cx="81.8" cy="3.7" r="0.6" fill="#800080" />
<circle cx="84.8" cy="7.7" r="0.6" fill="#800080" />
<circle cx="101.8" cy="2.7" r="0.6" fill="#800080" />
<circle cx="107.8" cy="0.7" r="0.6" fill="#800080" />
<circle cx="117.8" cy="1.7" r="0.6" fill="#800080" />
<circle cx="72.8" cy="5.7" r="0.5" fill="#800080" />
<circle cx="53.3" cy="18.7" r="0.7" fill="#800080" />
<circle cx="56.3" cy="20.2" r="0.8" fill="#800080" />
<circle cx="39.6" cy="24.7" r="0.9" fill="#800080" />
<circle cx="40.3" cy="28.2" r="0.9" fill="#800080" />
<circle cx="41.8" cy="26.2" r="0.7" fill="#800080" />
<circle cx="53.8" cy="31.7" r="0.6" fill="#800080" />
<circle cx="76.3" cy="37.7" r="0.9" fill="#800080" />
<circle cx="77.8" cy="40.2" r="1.1" fill="#800080" />
<circle cx="79.3" cy="38.2" r="0.8" fill="#800080" />
<circle cx="74.8" cy="23.7" r="0.7" fill="#800080" />
<circle cx="72.3" cy="21.7" r="0.6" fill="#800080" />
<circle cx="92.8" cy="33.7" r="0.6" fill="#800080" />
<circle cx="95.3" cy="37.2" r="1.1" fill="#800080" />
<circle cx="96.8" cy="38.7" r="0.7" fill="#800080" />
<circle cx="83.8" cy="21.7" r="0.6" fill="#800080" />
<circle cx="89.8" cy="25.7" r="0.6" fill="#800080" />
<circle cx="102.8" cy="21.7" r="0.5" fill="#800080" />
<circle cx="108.8" cy="23.7" r="0.6" fill="#800080" />
<circle cx="112.8" cy="37.7" r="0.6" fill="#800080" />
<circle cx="117.8" cy="29.7" r="0.6" fill="#800080" />
<circle cx="102.8" cy="33.7" r="0.7" fill="#800080" />
<circle cx="129.8" cy="1.7" r="0.8" fill="#800080" />
<circle cx="132.8" cy="3.7" r="1.0" fill="#800080" />
<circle cx="135.3" cy="5.7" r="1.0" fill="#800080" />
<circle cx="136.8" cy="1.7" r="0.8" fill="#800080" />
<circle cx="131.8" cy="8.7" r="0.9" fill="#800080" />
<circle cx="134.8" cy="10.7" r="1.1" fill="#800080" />
<circle cx="136.8" cy="14.7" r="0.9" fill="#800080" />
<circle cx="130.3" cy="14.7" r="0.7" fill="#800080" />
<circle cx="132.8" cy="18.7" r="0.8" fill="#800080" />
<circle cx="135.8" cy="21.7" r="1.0" fill="#800080" />
<circle cx="133.8" cy="25.7" r="0.8" fill="#800080" />
<circle cx="136.8" cy="28.7" r="1.0" fill="#800080" />
<circle cx="132.3" cy="31.7" r="0.9" fill="#800080" />
<circle cx="134.8" cy="34.7" r="1.1" fill="#800080" />
<circle cx="137.3" cy="37.7" r="0.8" fill="#800080" />
<circle cx="130.8" cy="40.7" r="0.7" fill="#800080" />
<circle cx="133.8" cy="44.7" r="0.8" fill="#800080" />
<circle cx="129.8" cy="48.7" r="0.8" fill="#800080" />
<circle cx="135.8" cy="49.7" r="0.7" fill="#800080" />
<circle cx="128.8" cy="20.7" r="0.6" fill="#800080" />
<circle cx="13.2" cy="63.7" r="1.0" fill="#800080" />
<circle cx="21.0" cy="60.4" r="1.0" fill="#800080" />
<circle cx="23.2" cy="54.7" r="0.9" fill="#800080" />
<circle cx="23.4" cy="57.2" r="0.8" fill="#800080" />
<circle cx="31.0" cy="63.7" r="1.0" fill="#800080" />
<circle cx="26.6" cy="69.3" r="0.8" fill="#800080" />
<circle cx="33.2" cy="74.7" r="0.9" fill="#800080" />
<circle cx="17.8" cy="70.7" r="0.6" fill="#800080" />
<circle cx="35.8" cy="61.7" r="0.7" fill="#800080" />
<circle cx="37.8" cy="68.7" r="0.8" fill="#800080" />
<circle cx="46.8" cy="66.7" r="0.8" fill="#800080" />
<circle cx="48.8" cy="71.7" r="1.0" fill="#800080" />
<circle cx="53.8" cy="75.7" r="0.9" fill="#800080" />
<circle cx="56.8" cy="79.2" r="1.1" fill="#800080" />
<circle cx="43.8" cy="77.7" r="0.7" fill="#800080" />
<circle cx="39.8" cy="52.7" r="0.6" fill="#800080" />
<circle cx="28.8" cy="49.7" r="0.6" fill="#800080" />
<circle cx="19.8" cy="48.7" r="0.6" fill="#800080" />
<circle cx="33.8" cy="55.7" r="0.6" fill="#800080" />
<circle cx="59.8" cy="72.7" r="0.7" fill="#800080" />
<circle cx="81.8" cy="67.7" r="1.4" fill="#800080" />
<circle cx="84.3" cy="65.7" r="1.5" fill="#800080" />
<circle cx="86.8" cy="64.2" r="1.2" fill="#800080" />
<circle cx="82.8" cy="71.2" r="1.6" fill="#800080" />
<circle cx="85.3" cy="69.7" r="1.6" fill="#800080" />
<circle cx="88.3" cy="67.7" r="1.0" fill="#800080" />
<circle cx="81.3" cy="74.7" r="1.5" fill="#800080" />
<circle cx="83.8" cy="73.7" r="1.6" fill="#800080" />
<circle cx="86.3" cy="74.2" r="1.2" fill="#800080" />
<circle cx="82.3" cy="78.2" r="1.5" fill="#800080" />
<circle cx="84.8" cy="77.7" r="1.5" fill="#800080" />
<circle cx="82.8" cy="80.7" r="1.3" fill="#800080" />
<circle cx="80.3" cy="71.7" r="1.0" fill="#800080" />
<circle cx="88.8" cy="61.7" r="0.8" fill="#800080" />
<circle cx="91.3" cy="59.7" r="0.8" fill="#800080" />
<circle cx="92.8" cy="56.2" r="0.7" fill="#800080" />
<circle cx="77.8" cy="76.7" r="0.9" fill="#800080" />
<circle cx="87.8" cy="76.7" r="0.9" fill="#800080" />
<circle cx="89.8" cy="71.7" r="0.7" fill="#800080" />
<circle cx="107.8" cy="69.7" r="0.8" fill="#800080" />
<circle cx="110.3" cy="75.7" r="0.9" fill="#800080" />
<circle cx="112.8" cy="72.7" r="0.8" fill="#800080" />
<circle cx="114.8" cy="78.7" r="0.7" fill="#800080" />
<circle cx="120.8" cy="73.7" r="0.6" fill="#800080" />
<circle cx="131.8" cy="59.7" r="0.7" fill="#800080" />
<circle cx="133.8" cy="65.7" r="0.6" fill="#800080" />
<circle cx="102.3" cy="59.7" r="0.8" fill="#800080" />
<circle cx="72.8" cy="61.7" r="0.6" fill="#800080" />
<circle cx="74.8" cy="71.7" r="0.6" fill="#800080" />
<circle cx="67.3" cy="62.7" r="0.6" fill="#800080" />
<polyline points="1.1,0.2 1.4,81.7" fill="none" stroke="#800080" stroke-width="0.8" stroke-linecap="round" stroke-linejoin="round" stroke-dasharray="2.5,1.5"/>
<polyline points="6.0,49.7 6.2,77.7" fill="none" stroke="#800080" stroke-width="0.9" stroke-linecap="round" stroke-linejoin="round" stroke-dasharray="3,1.2"/>
<polyline points="9.4,58.7 9.6,77.7" fill="none" stroke="#800080" stroke-width="0.8" stroke-linecap="round" stroke-linejoin="round" stroke-dasharray="2.5,1.5"/>
<polyline points="9.3,28.0 21.3,28.0" fill="none" stroke="#800080" stroke-width="2.6" stroke-linecap="round" stroke-linejoin="round" />
<polyline points="41.8,60.4 32.9,78.2" fill="none" stroke="#800080" stroke-width="0.8" stroke-linecap="round" stroke-linejoin="round" stroke-dasharray="1.5,1.2"/>
<polyline points="90.3,0.7 95.8,0.7 94.3,7.7" fill="none" stroke="#800080" stroke-width="2.6" stroke-linecap="round" stroke-linejoin="round" />
<polyline points="0.8,73.7 4.8,77.2 8.8,79.2 11.8,80.2" fill="none" stroke="#800080" stroke-width="2.2" stroke-linecap="round" stroke-linejoin="round" />
<polyline points="0.3,69.7 2.8,72.7" fill="none" stroke="#800080" stroke-width="1.5" stroke-linecap="round" stroke-linejoin="round" />
<ellipse cx="92.8" cy="3.2" rx="3.2" ry="3.2" fill="#800080" />
<ellipse cx="20.3" cy="26.5" rx="1.6" ry="1.6" fill="#800080" />
<ellipse cx="5.8" cy="75.7" rx="2.5" ry="3.5" fill="#800080" />
<ellipse cx="84.3" cy="71.7" rx="4" ry="6" fill="#800080" />
<polygon points="33.4,5.7 38.3,5.1 39.3,8.7 35.8,10.5 33.4,9.2" fill="none" stroke="#8c8b6a" stroke-width="0.9" stroke-opacity="0.55" stroke-linejoin="round"/>
<polygon points="50.1,16.9 60.3,16.1 61.8,19.2 58.3,22.5 51.8,22.2 50.1,20.2" fill="none" stroke="#8c8b6a" stroke-width="0.9" stroke-opacity="0.55" stroke-linejoin="round"/>
<polygon points="38.6,23.3 44.2,20.9 49.8,21.7 55.3,25.7 57.7,29.7 56.1,34.4 52.9,40.0 49.8,43.2 43.4,44.0 40.2,40.8 37.8,34.4 38.3,28.1" fill="none" stroke="#8c8b6a" stroke-width="0.9" stroke-opacity="0.55" stroke-linejoin="round"/>
<polygon points="57.7,34.4 63.3,32.8 68.1,33.7 70.5,36.8 69.7,42.4 66.5,47.2 60.9,49.6 56.1,51.2 52.9,50.4 54.5,45.6 56.9,39.2" fill="none" stroke="#8c8b6a" stroke-width="0.9" stroke-opacity="0.55" stroke-linejoin="round"/>
<polygon points="66.8,14.9 78.3,13.9 80.9,17.7 76.6,27.5 70.1,30.8 65.2,25.9" fill="none" stroke="#8c8b6a" stroke-width="0.9" stroke-opacity="0.55" stroke-linejoin="round"/>
<polygon points="71.1,32.6 79.9,31.0 83.2,35.7 78.3,48.7 73.4,53.7 67.8,52.0 68.3,42.2" fill="none" stroke="#8c8b6a" stroke-width="0.9" stroke-opacity="0.55" stroke-linejoin="round"/>
<polygon points="83.2,14.9 94.6,13.9 96.3,17.7 89.7,30.8 83.2,32.4 80.4,29.1" fill="none" stroke="#8c8b6a" stroke-width="0.9" stroke-opacity="0.55" stroke-linejoin="round"/>
<polygon points="86.5,34.0 96.3,30.8 101.2,34.0 97.9,48.7 91.4,53.7 84.8,52.0 83.7,42.2" fill="none" stroke="#8c8b6a" stroke-width="0.9" stroke-opacity="0.55" stroke-linejoin="round"/>
<polygon points="97.9,16.1 109.3,14.4 112.6,17.7 107.7,32.4 102.8,35.7 97.9,30.8" fill="none" stroke="#8c8b6a" stroke-width="0.9" stroke-opacity="0.55" stroke-linejoin="round"/>
<polygon points="104.4,35.7 114.3,32.4 118.3,35.7 114.3,52.0 107.7,56.9 102.8,53.7" fill="none" stroke="#8c8b6a" stroke-width="0.9" stroke-opacity="0.55" stroke-linejoin="round"/>
<polygon points="114.3,17.7 124.2,16.1 125.3,23.7 124.3,35.7 120.8,47.1 115.9,45.5 113.3,35.7" fill="none" stroke="#8c8b6a" stroke-width="0.9" stroke-opacity="0.55" stroke-linejoin="round"/>
<polygon points="120.3,48.7 125.8,47.7 128.3,51.7 128.2,54.1 122.3,55.7 119.6,52.7" fill="none" stroke="#8c8b6a" stroke-width="0.9" stroke-opacity="0.55" stroke-linejoin="round"/>
<polygon points="83.6,55.7 88.8,55.2 93.9,58.7 98.8,61.7 99.1,72.9 95.6,82.2 71.8,82.2 69.8,73.7 73.8,63.7 77.8,57.7" fill="none" stroke="#8c8b6a" stroke-width="0.9" stroke-opacity="0.55" stroke-linejoin="round"/>
<polygon points="107.6,62.7 117.9,63.5 126.5,72.9 124.8,82.2 104.2,82.2 100.8,78.1 102.5,71.2" fill="none" stroke="#8c8b6a" stroke-width="0.9" stroke-opacity="0.55" stroke-linejoin="round"/>
<polygon points="124.8,56.7 133.3,54.1 137.8,52.4 137.8,72.9 131.6,78.1 128.2,67.8 124.8,62.7" fill="none" stroke="#8c8b6a" stroke-width="0.9" stroke-opacity="0.55" stroke-linejoin="round"/>
<polygon points="99.8,57.0 104.3,57.7 104.8,63.7 99.8,68.2" fill="none" stroke="#8c8b6a" stroke-width="0.9" stroke-opacity="0.55" stroke-linejoin="round"/>
<rect x="0" y="0" width="137.4" height="81.4" fill="#e1e9ef" mask="url(#wm_d)"/>
<polyline points="57.4,29.7 53.1,40.0" fill="none" stroke="#f2c4ae" stroke-width="2.9000000000000004" stroke-linecap="round" stroke-linejoin="round" />
<polyline points="57.4,29.7 53.1,40.0" fill="none" stroke="#8c0c1c" stroke-width="1.04" stroke-linecap="round" stroke-linejoin="round" />
<polyline points="62.3,33.2 57.8,39.2" fill="none" stroke="#f2c4ae" stroke-width="2.8" stroke-linecap="round" stroke-linejoin="round" />
<polyline points="62.3,33.2 57.8,39.2" fill="none" stroke="#8c0c1c" stroke-width="0.96" stroke-linecap="round" stroke-linejoin="round" />
<polyline points="118.1,36.2 115.3,45.2" fill="none" stroke="#f2c4ae" stroke-width="2.8" stroke-linecap="round" stroke-linejoin="round" />
<polyline points="118.1,36.2 115.3,45.2" fill="none" stroke="#8c0c1c" stroke-width="0.96" stroke-linecap="round" stroke-linejoin="round" />
<polyline points="105.8,63.7 103.0,76.7" fill="none" stroke="#f2c4ae" stroke-width="2.7" stroke-linecap="round" stroke-linejoin="round" />
<polyline points="105.8,63.7 103.0,76.7" fill="none" stroke="#8c0c1c" stroke-width="0.8800000000000001" stroke-linecap="round" stroke-linejoin="round" />
<polyline points="122.3,65.7 125.3,78.7" fill="none" stroke="#f2c4ae" stroke-width="2.7" stroke-linecap="round" stroke-linejoin="round" />
<polyline points="122.3,65.7 125.3,78.7" fill="none" stroke="#8c0c1c" stroke-width="0.8800000000000001" stroke-linecap="round" stroke-linejoin="round" />
<polyline points="129.3,57.7 126.8,63.7" fill="none" stroke="#f2c4ae" stroke-width="2.6" stroke-linecap="round" stroke-linejoin="round" />
<polyline points="129.3,57.7 126.8,63.7" fill="none" stroke="#8c0c1c" stroke-width="0.8" stroke-linecap="round" stroke-linejoin="round" />
<polyline points="137.3,68.7 132.8,81.7" fill="none" stroke="#f2c4ae" stroke-width="2.8" stroke-linecap="round" stroke-linejoin="round" />
<polyline points="137.3,68.7 132.8,81.7" fill="none" stroke="#8c0c1c" stroke-width="0.96" stroke-linecap="round" stroke-linejoin="round" />
<polyline points="98.8,60.7 96.3,72.7" fill="none" stroke="#f2c4ae" stroke-width="2.5" stroke-linecap="round" stroke-linejoin="round" />
<polyline points="98.8,60.7 96.3,72.7" fill="none" stroke="#8c0c1c" stroke-width="0.7200000000000001" stroke-linecap="round" stroke-linejoin="round" />
<polyline points="56.3,39.2 51.3,46.7" fill="none" stroke="#f2c4ae" stroke-width="2.5" stroke-linecap="round" stroke-linejoin="round" />
<polyline points="56.3,39.2 51.3,46.7" fill="none" stroke="#8c0c1c" stroke-width="0.7200000000000001" stroke-linecap="round" stroke-linejoin="round" />
<polyline points="63.8,12.0 124.8,12.3" fill="none" stroke="#f2c4ae" stroke-width="1.1" stroke-linecap="round" stroke-linejoin="round" opacity="0.8"/>
<polyline points="71.8,11.9 83.8,12.0" fill="none" stroke="#8c0c1c" stroke-width="0.5" stroke-linecap="round" stroke-linejoin="round" opacity="0.5"/>
<circle cx="34.8" cy="17.0" r="1.0" fill="#e06a10" />
<circle cx="95.1" cy="36.0" r="1.0" fill="#228b22" /></g></g>
<g transform="translate(177.40,136.30)" clip-path="url(#clip_e)"><g filter="url(#mblur)"><rect x="0" y="0" width="137.4" height="81.4" fill="#a8a483"/>
<g filter="url(#fblur)"><ellipse cx="51.8" cy="36.9" rx="25" ry="25" fill="#aea686" opacity="0.7"/><ellipse cx="96.8" cy="46.9" rx="20" ry="20" fill="#b4a98b" opacity="0.7"/><ellipse cx="121.8" cy="26.9" rx="12" ry="25" fill="#aaa586" opacity="0.6"/><ellipse cx="81.8" cy="71.9" rx="15" ry="10" fill="#b2a889" opacity="0.6"/><ellipse cx="71.8" cy="4.9" rx="25" ry="5" fill="#b8aa8c" opacity="0.7"/><ellipse cx="111.8" cy="4.9" rx="15" ry="5" fill="#bcac90" opacity="0.7"/><ellipse cx="66.8" cy="48.9" rx="6" ry="5" fill="#bcad90" opacity="0.6"/><ellipse cx="91.8" cy="38.9" rx="5" ry="5" fill="#bcad90" opacity="0.6"/><polygon points="-10.2,-5.1 29.8,-5.1 32.8,10.9 31.8,36.9 29.8,56.9 31.8,86.9 -10.2,86.9" fill="#bcae92" /><ellipse cx="15.8" cy="64.9" rx="18" ry="24" fill="#d8b8aa" opacity="0.9"/><ellipse cx="17.8" cy="71.9" rx="14" ry="14" fill="#e2bab2" opacity="0.9"/><ellipse cx="22.8" cy="76.9" rx="9" ry="7" fill="#ecd0cc" opacity="0.9"/><ellipse cx="25.8" cy="80.9" rx="6" ry="4" fill="#f2e2de" opacity="0.9"/><ellipse cx="13.8" cy="42.9" rx="9" ry="7" fill="#d6b8aa" opacity="0.8"/><ellipse cx="14.8" cy="20.4" rx="7" ry="3.5" fill="#dabcb0" opacity="0.85"/><ellipse cx="2.8" cy="46.9" rx="4" ry="30" fill="#d4b8aa" opacity="0.7"/><ellipse cx="21.8" cy="11.9" rx="9" ry="7" fill="#b2aa8c" opacity="0.7"/><ellipse cx="26.8" cy="46.9" rx="5" ry="12" fill="#b4aa8c" opacity="0.6"/><ellipse cx="13.8" cy="6.9" rx="12" ry="6" fill="#b4ab8d" opacity="0.7"/><ellipse cx="117.8" cy="1.9" rx="11" ry="4" fill="#dab8b0" opacity="0.8"/><ellipse cx="122.8" cy="1.4" rx="5" ry="3" fill="#e6c4c2" opacity="0.9"/><ellipse cx="135.3" cy="77.9" rx="3.5" ry="6" fill="#ecd8d4" opacity="0.9"/></g>
<rect x="0" y="0" width="2.4" height="81.4" fill="#c8ab9e" opacity="0.8"/>
<polyline points="6.3,-0.1 6.8,81.9" fill="none" stroke="#9a8a7e" stroke-width="0.45" stroke-linecap="round" stroke-linejoin="round" opacity="0.6"/>
<polyline points="2.8,-0.1 3.1,81.9" fill="none" stroke="#9a8a7e" stroke-width="0.45" stroke-linecap="round" stroke-linejoin="round" opacity="0.6"/>
<circle cx="6.8" cy="6.7" r="0.8" fill="#800080" />
<circle cx="10.3" cy="3.7" r="0.7" fill="#800080" />
<circle cx="13.8" cy="1.7" r="0.6" fill="#800080" />
<circle cx="7.8" cy="13.7" r="0.7" fill="#800080" />
<circle cx="2.8" cy="15.7" r="0.8" fill="#800080" />
<circle cx="11.8" cy="18.7" r="0.6" fill="#800080" />
<circle cx="4.8" cy="23.7" r="0.7" fill="#800080" />
<circle cx="17.8" cy="21.7" r="0.8" fill="#800080" />
<circle cx="18.3" cy="25.7" r="0.8" fill="#800080" />
<circle cx="17.3" cy="29.7" r="0.7" fill="#800080" />
<circle cx="26.8" cy="19.7" r="1.1" fill="#800080" />
<circle cx="28.8" cy="22.2" r="1.2" fill="#800080" />
<circle cx="27.8" cy="25.2" r="1.2" fill="#800080" />
<circle cx="29.8" cy="27.7" r="1.1" fill="#800080" />
<circle cx="28.3" cy="30.7" r="1.0" fill="#800080" />
<circle cx="30.8" cy="33.2" r="0.9" fill="#800080" />
<circle cx="26.8" cy="16.2" r="0.8" fill="#800080" />
<circle cx="22.8" cy="17.7" r="0.6" fill="#800080" />
<circle cx="5.8" cy="33.7" r="0.6" fill="#800080" />
<circle cx="9.8" cy="39.7" r="0.6" fill="#800080" />
<circle cx="15.8" cy="35.7" r="0.7" fill="#800080" />
<circle cx="21.8" cy="41.7" r="0.6" fill="#800080" />
<circle cx="42.8" cy="1.2" r="0.9" fill="#800080" />
<circle cx="45.8" cy="2.7" r="0.8" fill="#800080" />
<circle cx="48.3" cy="1.7" r="1.2" fill="#800080" />
<circle cx="50.3" cy="4.2" r="1.3" fill="#800080" />
<circle cx="51.8" cy="1.7" r="1.0" fill="#800080" />
<circle cx="53.8" cy="5.7" r="0.9" fill="#800080" />
<circle cx="56.8" cy="3.7" r="0.8" fill="#800080" />
<circle cx="58.8" cy="7.7" r="0.7" fill="#800080" />
<circle cx="44.8" cy="6.7" r="0.7" fill="#800080" />
<circle cx="68.8" cy="1.2" r="0.8" fill="#800080" />
<circle cx="71.8" cy="2.7" r="0.7" fill="#800080" />
<circle cx="75.8" cy="1.2" r="0.8" fill="#800080" />
<circle cx="81.8" cy="3.7" r="0.6" fill="#800080" />
<circle cx="84.8" cy="7.7" r="0.6" fill="#800080" />
<circle cx="101.8" cy="2.7" r="0.6" fill="#800080" />
<circle cx="107.8" cy="0.7" r="0.6" fill="#800080" />
<circle cx="117.8" cy="1.7" r="0.6" fill="#800080" />
<circle cx="72.8" cy="5.7" r="0.5" fill="#800080" />
<circle cx="53.3" cy="18.7" r="0.7" fill="#800080" />
<circle cx="56.3" cy="20.2" r="0.8" fill="#800080" />
<circle cx="39.6" cy="24.7" r="0.9" fill="#800080" />
<circle cx="40.3" cy="28.2" r="0.9" fill="#800080" />
<circle cx="41.8" cy="26.2" r="0.7" fill="#800080" />
<circle cx="53.8" cy="31.7" r="0.6" fill="#800080" />
<circle cx="76.3" cy="37.7" r="0.9" fill="#800080" />
<circle cx="77.8" cy="40.2" r="1.1" fill="#800080" />
<circle cx="79.3" cy="38.2" r="0.8" fill="#800080" />
<circle cx="74.8" cy="23.7" r="0.7" fill="#800080" />
<circle cx="72.3" cy="21.7" r="0.6" fill="#800080" />
<circle cx="92.8" cy="33.7" r="0.6" fill="#800080" />
<circle cx="95.3" cy="37.2" r="1.1" fill="#800080" />
<circle cx="96.8" cy="38.7" r="0.7" fill="#800080" />
<circle cx="83.8" cy="21.7" r="0.6" fill="#800080" />
<circle cx="89.8" cy="25.7" r="0.6" fill="#800080" />
<circle cx="102.8" cy="21.7" r="0.5" fill="#800080" />
<circle cx="108.8" cy="23.7" r="0.6" fill="#800080" />
<circle cx="112.8" cy="37.7" r="0.6" fill="#800080" />
<circle cx="117.8" cy="29.7" r="0.6" fill="#800080" />
<circle cx="102.8" cy="33.7" r="0.7" fill="#800080" />
<circle cx="129.8" cy="1.7" r="0.8" fill="#800080" />
<circle cx="132.8" cy="3.7" r="1.0" fill="#800080" />
<circle cx="135.3" cy="5.7" r="1.0" fill="#800080" />
<circle cx="136.8" cy="1.7" r="0.8" fill="#800080" />
<circle cx="131.8" cy="8.7" r="0.9" fill="#800080" />
<circle cx="134.8" cy="10.7" r="1.1" fill="#800080" />
<circle cx="136.8" cy="14.7" r="0.9" fill="#800080" />
<circle cx="130.3" cy="14.7" r="0.7" fill="#800080" />
<circle cx="132.8" cy="18.7" r="0.8" fill="#800080" />
<circle cx="135.8" cy="21.7" r="1.0" fill="#800080" />
<circle cx="133.8" cy="25.7" r="0.8" fill="#800080" />
<circle cx="136.8" cy="28.7" r="1.0" fill="#800080" />
<circle cx="132.3" cy="31.7" r="0.9" fill="#800080" />
<circle cx="134.8" cy="34.7" r="1.1" fill="#800080" />
<circle cx="137.3" cy="37.7" r="0.8" fill="#800080" />
<circle cx="130.8" cy="40.7" r="0.7" fill="#800080" />
<circle cx="133.8" cy="44.7" r="0.8" fill="#800080" />
<circle cx="129.8" cy="48.7" r="0.8" fill="#800080" />
<circle cx="135.8" cy="49.7" r="0.7" fill="#800080" />
<circle cx="128.8" cy="20.7" r="0.6" fill="#800080" />
<circle cx="13.2" cy="63.7" r="1.0" fill="#800080" />
<circle cx="21.0" cy="60.4" r="1.0" fill="#800080" />
<circle cx="23.2" cy="54.7" r="0.9" fill="#800080" />
<circle cx="23.4" cy="57.2" r="0.8" fill="#800080" />
<circle cx="31.0" cy="63.7" r="1.0" fill="#800080" />
<circle cx="26.6" cy="69.3" r="0.8" fill="#800080" />
<circle cx="33.2" cy="74.7" r="0.9" fill="#800080" />
<circle cx="17.8" cy="70.7" r="0.6" fill="#800080" />
<circle cx="35.8" cy="61.7" r="0.7" fill="#800080" />
<circle cx="37.8" cy="68.7" r="0.8" fill="#800080" />
<circle cx="46.8" cy="66.7" r="0.8" fill="#800080" />
<circle cx="48.8" cy="71.7" r="1.0" fill="#800080" />
<circle cx="53.8" cy="75.7" r="0.9" fill="#800080" />
<circle cx="56.8" cy="79.2" r="1.1" fill="#800080" />
<circle cx="43.8" cy="77.7" r="0.7" fill="#800080" />
<circle cx="39.8" cy="52.7" r="0.6" fill="#800080" />
<circle cx="28.8" cy="49.7" r="0.6" fill="#800080" />
<circle cx="19.8" cy="48.7" r="0.6" fill="#800080" />
<circle cx="33.8" cy="55.7" r="0.6" fill="#800080" />
<circle cx="59.8" cy="72.7" r="0.7" fill="#800080" />
<circle cx="81.8" cy="67.7" r="1.4" fill="#800080" />
<circle cx="84.3" cy="65.7" r="1.5" fill="#800080" />
<circle cx="86.8" cy="64.2" r="1.2" fill="#800080" />
<circle cx="82.8" cy="71.2" r="1.6" fill="#800080" />
<circle cx="85.3" cy="69.7" r="1.6" fill="#800080" />
<circle cx="88.3" cy="67.7" r="1.0" fill="#800080" />
<circle cx="81.3" cy="74.7" r="1.5" fill="#800080" />
<circle cx="83.8" cy="73.7" r="1.6" fill="#800080" />
<circle cx="86.3" cy="74.2" r="1.2" fill="#800080" />
<circle cx="82.3" cy="78.2" r="1.5" fill="#800080" />
<circle cx="84.8" cy="77.7" r="1.5" fill="#800080" />
<circle cx="82.8" cy="80.7" r="1.3" fill="#800080" />
<circle cx="80.3" cy="71.7" r="1.0" fill="#800080" />
<circle cx="88.8" cy="61.7" r="0.8" fill="#800080" />
<circle cx="91.3" cy="59.7" r="0.8" fill="#800080" />
<circle cx="92.8" cy="56.2" r="0.7" fill="#800080" />
<circle cx="77.8" cy="76.7" r="0.9" fill="#800080" />
<circle cx="87.8" cy="76.7" r="0.9" fill="#800080" />
<circle cx="89.8" cy="71.7" r="0.7" fill="#800080" />
<circle cx="107.8" cy="69.7" r="0.8" fill="#800080" />
<circle cx="110.3" cy="75.7" r="0.9" fill="#800080" />
<circle cx="112.8" cy="72.7" r="0.8" fill="#800080" />
<circle cx="114.8" cy="78.7" r="0.7" fill="#800080" />
<circle cx="120.8" cy="73.7" r="0.6" fill="#800080" />
<circle cx="131.8" cy="59.7" r="0.7" fill="#800080" />
<circle cx="133.8" cy="65.7" r="0.6" fill="#800080" />
<circle cx="102.3" cy="59.7" r="0.8" fill="#800080" />
<circle cx="72.8" cy="61.7" r="0.6" fill="#800080" />
<circle cx="74.8" cy="71.7" r="0.6" fill="#800080" />
<circle cx="67.3" cy="62.7" r="0.6" fill="#800080" />
<polyline points="1.1,0.2 1.4,81.7" fill="none" stroke="#800080" stroke-width="0.8" stroke-linecap="round" stroke-linejoin="round" stroke-dasharray="2.5,1.5"/>
<polyline points="6.0,49.7 6.2,77.7" fill="none" stroke="#800080" stroke-width="0.9" stroke-linecap="round" stroke-linejoin="round" stroke-dasharray="3,1.2"/>
<polyline points="9.4,58.7 9.6,77.7" fill="none" stroke="#800080" stroke-width="0.8" stroke-linecap="round" stroke-linejoin="round" stroke-dasharray="2.5,1.5"/>
<polyline points="9.3,28.0 21.3,28.0" fill="none" stroke="#800080" stroke-width="2.6" stroke-linecap="round" stroke-linejoin="round" />
<polyline points="41.8,60.4 32.9,78.2" fill="none" stroke="#800080" stroke-width="0.8" stroke-linecap="round" stroke-linejoin="round" stroke-dasharray="1.5,1.2"/>
<polyline points="90.3,0.7 95.8,0.7 94.3,7.7" fill="none" stroke="#800080" stroke-width="2.6" stroke-linecap="round" stroke-linejoin="round" />
<polyline points="0.8,73.7 4.8,77.2 8.8,79.2 11.8,80.2" fill="none" stroke="#800080" stroke-width="2.2" stroke-linecap="round" stroke-linejoin="round" />
<polyline points="0.3,69.7 2.8,72.7" fill="none" stroke="#800080" stroke-width="1.5" stroke-linecap="round" stroke-linejoin="round" />
<ellipse cx="92.8" cy="3.2" rx="3.2" ry="3.2" fill="#800080" />
<ellipse cx="20.3" cy="26.5" rx="1.6" ry="1.6" fill="#800080" />
<ellipse cx="5.8" cy="75.7" rx="2.5" ry="3.5" fill="#800080" />
<ellipse cx="84.3" cy="71.7" rx="4" ry="6" fill="#800080" />
<polygon points="33.4,5.7 38.3,5.1 39.3,8.7 35.8,10.5 33.4,9.2" fill="none" stroke="#8c8b6a" stroke-width="0.9" stroke-opacity="0.55" stroke-linejoin="round"/>
<polygon points="50.1,16.9 60.3,16.1 61.8,19.2 58.3,22.5 51.8,22.2 50.1,20.2" fill="none" stroke="#8c8b6a" stroke-width="0.9" stroke-opacity="0.55" stroke-linejoin="round"/>
<polygon points="38.6,23.3 44.2,20.9 49.8,21.7 55.3,25.7 57.7,29.7 56.1,34.4 52.9,40.0 49.8,43.2 43.4,44.0 40.2,40.8 37.8,34.4 38.3,28.1" fill="none" stroke="#8c8b6a" stroke-width="0.9" stroke-opacity="0.55" stroke-linejoin="round"/>
<polygon points="57.7,34.4 63.3,32.8 68.1,33.7 70.5,36.8 69.7,42.4 66.5,47.2 60.9,49.6 56.1,51.2 52.9,50.4 54.5,45.6 56.9,39.2" fill="none" stroke="#8c8b6a" stroke-width="0.9" stroke-opacity="0.55" stroke-linejoin="round"/>
<polygon points="66.8,14.9 78.3,13.9 80.9,17.7 76.6,27.5 70.1,30.8 65.2,25.9" fill="none" stroke="#8c8b6a" stroke-width="0.9" stroke-opacity="0.55" stroke-linejoin="round"/>
<polygon points="71.1,32.6 79.9,31.0 83.2,35.7 78.3,48.7 73.4,53.7 67.8,52.0 68.3,42.2" fill="none" stroke="#8c8b6a" stroke-width="0.9" stroke-opacity="0.55" stroke-linejoin="round"/>
<polygon points="83.2,14.9 94.6,13.9 96.3,17.7 89.7,30.8 83.2,32.4 80.4,29.1" fill="none" stroke="#8c8b6a" stroke-width="0.9" stroke-opacity="0.55" stroke-linejoin="round"/>
<polygon points="86.5,34.0 96.3,30.8 101.2,34.0 97.9,48.7 91.4,53.7 84.8,52.0 83.7,42.2" fill="none" stroke="#8c8b6a" stroke-width="0.9" stroke-opacity="0.55" stroke-linejoin="round"/>
<polygon points="97.9,16.1 109.3,14.4 112.6,17.7 107.7,32.4 102.8,35.7 97.9,30.8" fill="none" stroke="#8c8b6a" stroke-width="0.9" stroke-opacity="0.55" stroke-linejoin="round"/>
<polygon points="104.4,35.7 114.3,32.4 118.3,35.7 114.3,52.0 107.7,56.9 102.8,53.7" fill="none" stroke="#8c8b6a" stroke-width="0.9" stroke-opacity="0.55" stroke-linejoin="round"/>
<polygon points="114.3,17.7 124.2,16.1 125.3,23.7 124.3,35.7 120.8,47.1 115.9,45.5 113.3,35.7" fill="none" stroke="#8c8b6a" stroke-width="0.9" stroke-opacity="0.55" stroke-linejoin="round"/>
<polygon points="120.3,48.7 125.8,47.7 128.3,51.7 128.2,54.1 122.3,55.7 119.6,52.7" fill="none" stroke="#8c8b6a" stroke-width="0.9" stroke-opacity="0.55" stroke-linejoin="round"/>
<polygon points="83.6,55.7 88.8,55.2 93.9,58.7 98.8,61.7 99.1,72.9 95.6,82.2 71.8,82.2 69.8,73.7 73.8,63.7 77.8,57.7" fill="none" stroke="#8c8b6a" stroke-width="0.9" stroke-opacity="0.55" stroke-linejoin="round"/>
<polygon points="107.6,62.7 117.9,63.5 126.5,72.9 124.8,82.2 104.2,82.2 100.8,78.1 102.5,71.2" fill="none" stroke="#8c8b6a" stroke-width="0.9" stroke-opacity="0.55" stroke-linejoin="round"/>
<polygon points="124.8,56.7 133.3,54.1 137.8,52.4 137.8,72.9 131.6,78.1 128.2,67.8 124.8,62.7" fill="none" stroke="#8c8b6a" stroke-width="0.9" stroke-opacity="0.55" stroke-linejoin="round"/>
<polygon points="99.8,57.0 104.3,57.7 104.8,63.7 99.8,68.2" fill="none" stroke="#8c8b6a" stroke-width="0.9" stroke-opacity="0.55" stroke-linejoin="round"/>
<rect x="0" y="0" width="137.4" height="81.4" fill="#f9ede6" mask="url(#wm_e)"/>
<polyline points="57.4,29.7 53.1,40.0" fill="none" stroke="#f0b8a0" stroke-width="2.9000000000000004" stroke-linecap="round" stroke-linejoin="round" />
<polyline points="57.4,29.7 53.1,40.0" fill="none" stroke="#7a0a1a" stroke-width="1.04" stroke-linecap="round" stroke-linejoin="round" />
<polyline points="62.3,33.2 57.8,39.2" fill="none" stroke="#f0b8a0" stroke-width="2.8" stroke-linecap="round" stroke-linejoin="round" />
<polyline points="62.3,33.2 57.8,39.2" fill="none" stroke="#7a0a1a" stroke-width="0.96" stroke-linecap="round" stroke-linejoin="round" />
<polyline points="118.1,36.2 115.3,45.2" fill="none" stroke="#f0b8a0" stroke-width="2.8" stroke-linecap="round" stroke-linejoin="round" />
<polyline points="118.1,36.2 115.3,45.2" fill="none" stroke="#7a0a1a" stroke-width="0.96" stroke-linecap="round" stroke-linejoin="round" />
<polyline points="105.8,63.7 103.0,76.7" fill="none" stroke="#f0b8a0" stroke-width="2.7" stroke-linecap="round" stroke-linejoin="round" />
<polyline points="105.8,63.7 103.0,76.7" fill="none" stroke="#7a0a1a" stroke-width="0.8800000000000001" stroke-linecap="round" stroke-linejoin="round" />
<polyline points="122.3,65.7 125.3,78.7" fill="none" stroke="#f0b8a0" stroke-width="2.7" stroke-linecap="round" stroke-linejoin="round" />
<polyline points="122.3,65.7 125.3,78.7" fill="none" stroke="#7a0a1a" stroke-width="0.8800000000000001" stroke-linecap="round" stroke-linejoin="round" />
<polyline points="129.3,57.7 126.8,63.7" fill="none" stroke="#f0b8a0" stroke-width="2.6" stroke-linecap="round" stroke-linejoin="round" />
<polyline points="129.3,57.7 126.8,63.7" fill="none" stroke="#7a0a1a" stroke-width="0.8" stroke-linecap="round" stroke-linejoin="round" />
<polyline points="137.3,68.7 132.8,81.7" fill="none" stroke="#f0b8a0" stroke-width="2.8" stroke-linecap="round" stroke-linejoin="round" />
<polyline points="137.3,68.7 132.8,81.7" fill="none" stroke="#7a0a1a" stroke-width="0.96" stroke-linecap="round" stroke-linejoin="round" />
<polyline points="98.8,60.7 96.3,72.7" fill="none" stroke="#f0b8a0" stroke-width="2.5" stroke-linecap="round" stroke-linejoin="round" />
<polyline points="98.8,60.7 96.3,72.7" fill="none" stroke="#7a0a1a" stroke-width="0.7200000000000001" stroke-linecap="round" stroke-linejoin="round" />
<polyline points="56.3,39.2 51.3,46.7" fill="none" stroke="#f0b8a0" stroke-width="2.5" stroke-linecap="round" stroke-linejoin="round" />
<polyline points="56.3,39.2 51.3,46.7" fill="none" stroke="#7a0a1a" stroke-width="0.7200000000000001" stroke-linecap="round" stroke-linejoin="round" />
<polyline points="63.8,12.0 124.8,12.3" fill="none" stroke="#f0b8a0" stroke-width="1.1" stroke-linecap="round" stroke-linejoin="round" opacity="0.8"/>
<polyline points="71.8,11.9 83.8,12.0" fill="none" stroke="#7a0a1a" stroke-width="0.5" stroke-linecap="round" stroke-linejoin="round" opacity="0.5"/>
<circle cx="34.8" cy="17.0" r="1.0" fill="#e06a10" />
<circle cx="95.1" cy="36.0" r="1.0" fill="#228b22" /></g></g>
<rect x="28.20" y="23.10" width="137.40" height="81.40" fill="none" stroke="#262626" stroke-width="0.6"/>
<line x1="28.40" y1="104.50" x2="28.40" y2="106.40" stroke="#262626" stroke-width="0.5" />
<text x="28.40" y="113.00" font-size="6" fill="#262626" text-anchor="middle" >0</text>
<line x1="36.33" y1="104.50" x2="36.33" y2="105.60" stroke="#262626" stroke-width="0.5" />
<line x1="44.26" y1="104.50" x2="44.26" y2="106.40" stroke="#262626" stroke-width="0.5" />
<text x="44.26" y="113.00" font-size="6" fill="#262626" text-anchor="middle" >50</text>
<line x1="52.19" y1="104.50" x2="52.19" y2="105.60" stroke="#262626" stroke-width="0.5" />
<line x1="60.12" y1="104.50" x2="60.12" y2="106.40" stroke="#262626" stroke-width="0.5" />
<text x="60.12" y="113.00" font-size="6" fill="#262626" text-anchor="middle" >100</text>
<line x1="68.05" y1="104.50" x2="68.05" y2="105.60" stroke="#262626" stroke-width="0.5" />
<line x1="75.98" y1="104.50" x2="75.98" y2="106.40" stroke="#262626" stroke-width="0.5" />
<text x="75.98" y="113.00" font-size="6" fill="#262626" text-anchor="middle" >150</text>
<line x1="83.91" y1="104.50" x2="83.91" y2="105.60" stroke="#262626" stroke-width="0.5" />
<line x1="91.84" y1="104.50" x2="91.84" y2="106.40" stroke="#262626" stroke-width="0.5" />
<text x="91.84" y="113.00" font-size="6" fill="#262626" text-anchor="middle" >200</text>
<line x1="99.77" y1="104.50" x2="99.77" y2="105.60" stroke="#262626" stroke-width="0.5" />
<line x1="107.70" y1="104.50" x2="107.70" y2="106.40" stroke="#262626" stroke-width="0.5" />
<text x="107.70" y="113.00" font-size="6" fill="#262626" text-anchor="middle" >250</text>
<line x1="115.63" y1="104.50" x2="115.63" y2="105.60" stroke="#262626" stroke-width="0.5" />
<line x1="123.56" y1="104.50" x2="123.56" y2="106.40" stroke="#262626" stroke-width="0.5" />
<text x="123.56" y="113.00" font-size="6" fill="#262626" text-anchor="middle" >300</text>
<line x1="131.49" y1="104.50" x2="131.49" y2="105.60" stroke="#262626" stroke-width="0.5" />
<line x1="139.42" y1="104.50" x2="139.42" y2="106.40" stroke="#262626" stroke-width="0.5" />
<text x="139.42" y="113.00" font-size="6" fill="#262626" text-anchor="middle" >350</text>
<line x1="147.35" y1="104.50" x2="147.35" y2="105.60" stroke="#262626" stroke-width="0.5" />
<line x1="155.28" y1="104.50" x2="155.28" y2="106.40" stroke="#262626" stroke-width="0.5" />
<text x="155.28" y="113.00" font-size="6" fill="#262626" text-anchor="middle" >400</text>
<line x1="163.21" y1="104.50" x2="163.21" y2="105.60" stroke="#262626" stroke-width="0.5" />
<line x1="28.20" y1="104.50" x2="26.30" y2="104.50" stroke="#262626" stroke-width="0.5" />
<text x="25.20" y="106.65" font-size="6" fill="#262626" text-anchor="end" >0</text>
<line x1="28.20" y1="96.40" x2="27.10" y2="96.40" stroke="#262626" stroke-width="0.5" />
<line x1="28.20" y1="88.30" x2="26.30" y2="88.30" stroke="#262626" stroke-width="0.5" />
<text x="25.20" y="90.45" font-size="6" fill="#262626" text-anchor="end" >50</text>
<line x1="28.20" y1="80.20" x2="27.10" y2="80.20" stroke="#262626" stroke-width="0.5" />
<line x1="28.20" y1="72.10" x2="26.30" y2="72.10" stroke="#262626" stroke-width="0.5" />
<text x="25.20" y="74.25" font-size="6" fill="#262626" text-anchor="end" >100</text>
<line x1="28.20" y1="64.00" x2="27.10" y2="64.00" stroke="#262626" stroke-width="0.5" />
<line x1="28.20" y1="55.90" x2="26.30" y2="55.90" stroke="#262626" stroke-width="0.5" />
<text x="25.20" y="58.05" font-size="6" fill="#262626" text-anchor="end" >150</text>
<line x1="28.20" y1="47.80" x2="27.10" y2="47.80" stroke="#262626" stroke-width="0.5" />
<line x1="28.20" y1="39.70" x2="26.30" y2="39.70" stroke="#262626" stroke-width="0.5" />
<text x="25.20" y="41.85" font-size="6" fill="#262626" text-anchor="end" >200</text>
<line x1="28.20" y1="31.60" x2="27.10" y2="31.60" stroke="#262626" stroke-width="0.5" />
<line x1="28.20" y1="23.50" x2="26.30" y2="23.50" stroke="#262626" stroke-width="0.5" />
<text x="25.20" y="25.65" font-size="6" fill="#262626" text-anchor="end" >250</text>
<rect x="28.20" y="136.30" width="137.40" height="81.40" fill="none" stroke="#262626" stroke-width="0.6"/>
<line x1="28.40" y1="217.70" x2="28.40" y2="219.60" stroke="#262626" stroke-width="0.5" />
<text x="28.40" y="226.20" font-size="6" fill="#262626" text-anchor="middle" >0</text>
<line x1="36.33" y1="217.70" x2="36.33" y2="218.80" stroke="#262626" stroke-width="0.5" />
<line x1="44.26" y1="217.70" x2="44.26" y2="219.60" stroke="#262626" stroke-width="0.5" />
<text x="44.26" y="226.20" font-size="6" fill="#262626" text-anchor="middle" >50</text>
<line x1="52.19" y1="217.70" x2="52.19" y2="218.80" stroke="#262626" stroke-width="0.5" />
<line x1="60.12" y1="217.70" x2="60.12" y2="219.60" stroke="#262626" stroke-width="0.5" />
<text x="60.12" y="226.20" font-size="6" fill="#262626" text-anchor="middle" >100</text>
<line x1="68.05" y1="217.70" x2="68.05" y2="218.80" stroke="#262626" stroke-width="0.5" />
<line x1="75.98" y1="217.70" x2="75.98" y2="219.60" stroke="#262626" stroke-width="0.5" />
<text x="75.98" y="226.20" font-size="6" fill="#262626" text-anchor="middle" >150</text>
<line x1="83.91" y1="217.70" x2="83.91" y2="218.80" stroke="#262626" stroke-width="0.5" />
<line x1="91.84" y1="217.70" x2="91.84" y2="219.60" stroke="#262626" stroke-width="0.5" />
<text x="91.84" y="226.20" font-size="6" fill="#262626" text-anchor="middle" >200</text>
<line x1="99.77" y1="217.70" x2="99.77" y2="218.80" stroke="#262626" stroke-width="0.5" />
<line x1="107.70" y1="217.70" x2="107.70" y2="219.60" stroke="#262626" stroke-width="0.5" />
<text x="107.70" y="226.20" font-size="6" fill="#262626" text-anchor="middle" >250</text>
<line x1="115.63" y1="217.70" x2="115.63" y2="218.80" stroke="#262626" stroke-width="0.5" />
<line x1="123.56" y1="217.70" x2="123.56" y2="219.60" stroke="#262626" stroke-width="0.5" />
<text x="123.56" y="226.20" font-size="6" fill="#262626" text-anchor="middle" >300</text>
<line x1="131.49" y1="217.70" x2="131.49" y2="218.80" stroke="#262626" stroke-width="0.5" />
<line x1="139.42" y1="217.70" x2="139.42" y2="219.60" stroke="#262626" stroke-width="0.5" />
<text x="139.42" y="226.20" font-size="6" fill="#262626" text-anchor="middle" >350</text>
<line x1="147.35" y1="217.70" x2="147.35" y2="218.80" stroke="#262626" stroke-width="0.5" />
<line x1="155.28" y1="217.70" x2="155.28" y2="219.60" stroke="#262626" stroke-width="0.5" />
<text x="155.28" y="226.20" font-size="6" fill="#262626" text-anchor="middle" >400</text>
<line x1="163.21" y1="217.70" x2="163.21" y2="218.80" stroke="#262626" stroke-width="0.5" />
<line x1="28.20" y1="217.70" x2="26.30" y2="217.70" stroke="#262626" stroke-width="0.5" />
<text x="25.20" y="219.85" font-size="6" fill="#262626" text-anchor="end" >0</text>
<line x1="28.20" y1="209.60" x2="27.10" y2="209.60" stroke="#262626" stroke-width="0.5" />
<line x1="28.20" y1="201.50" x2="26.30" y2="201.50" stroke="#262626" stroke-width="0.5" />
<text x="25.20" y="203.65" font-size="6" fill="#262626" text-anchor="end" >50</text>
<line x1="28.20" y1="193.40" x2="27.10" y2="193.40" stroke="#262626" stroke-width="0.5" />
<line x1="28.20" y1="185.30" x2="26.30" y2="185.30" stroke="#262626" stroke-width="0.5" />
<text x="25.20" y="187.45" font-size="6" fill="#262626" text-anchor="end" >100</text>
<line x1="28.20" y1="177.20" x2="27.10" y2="177.20" stroke="#262626" stroke-width="0.5" />
<line x1="28.20" y1="169.10" x2="26.30" y2="169.10" stroke="#262626" stroke-width="0.5" />
<text x="25.20" y="171.25" font-size="6" fill="#262626" text-anchor="end" >150</text>
<line x1="28.20" y1="161.00" x2="27.10" y2="161.00" stroke="#262626" stroke-width="0.5" />
<line x1="28.20" y1="152.90" x2="26.30" y2="152.90" stroke="#262626" stroke-width="0.5" />
<text x="25.20" y="155.05" font-size="6" fill="#262626" text-anchor="end" >200</text>
<line x1="28.20" y1="144.80" x2="27.10" y2="144.80" stroke="#262626" stroke-width="0.5" />
<line x1="28.20" y1="136.70" x2="26.30" y2="136.70" stroke="#262626" stroke-width="0.5" />
<text x="25.20" y="138.85" font-size="6" fill="#262626" text-anchor="end" >250</text>
<rect x="177.40" y="23.10" width="137.40" height="81.40" fill="none" stroke="#262626" stroke-width="0.6"/>
<line x1="177.60" y1="104.50" x2="177.60" y2="106.40" stroke="#262626" stroke-width="0.5" />
<text x="177.60" y="113.00" font-size="6" fill="#262626" text-anchor="middle" >0</text>
<line x1="185.53" y1="104.50" x2="185.53" y2="105.60" stroke="#262626" stroke-width="0.5" />
<line x1="193.46" y1="104.50" x2="193.46" y2="106.40" stroke="#262626" stroke-width="0.5" />
<text x="193.46" y="113.00" font-size="6" fill="#262626" text-anchor="middle" >50</text>
<line x1="201.39" y1="104.50" x2="201.39" y2="105.60" stroke="#262626" stroke-width="0.5" />
<line x1="209.32" y1="104.50" x2="209.32" y2="106.40" stroke="#262626" stroke-width="0.5" />
<text x="209.32" y="113.00" font-size="6" fill="#262626" text-anchor="middle" >100</text>
<line x1="217.25" y1="104.50" x2="217.25" y2="105.60" stroke="#262626" stroke-width="0.5" />
<line x1="225.18" y1="104.50" x2="225.18" y2="106.40" stroke="#262626" stroke-width="0.5" />
<text x="225.18" y="113.00" font-size="6" fill="#262626" text-anchor="middle" >150</text>
<line x1="233.11" y1="104.50" x2="233.11" y2="105.60" stroke="#262626" stroke-width="0.5" />
<line x1="241.04" y1="104.50" x2="241.04" y2="106.40" stroke="#262626" stroke-width="0.5" />
<text x="241.04" y="113.00" font-size="6" fill="#262626" text-anchor="middle" >200</text>
<line x1="248.97" y1="104.50" x2="248.97" y2="105.60" stroke="#262626" stroke-width="0.5" />
<line x1="256.90" y1="104.50" x2="256.90" y2="106.40" stroke="#262626" stroke-width="0.5" />
<text x="256.90" y="113.00" font-size="6" fill="#262626" text-anchor="middle" >250</text>
<line x1="264.83" y1="104.50" x2="264.83" y2="105.60" stroke="#262626" stroke-width="0.5" />
<line x1="272.76" y1="104.50" x2="272.76" y2="106.40" stroke="#262626" stroke-width="0.5" />
<text x="272.76" y="113.00" font-size="6" fill="#262626" text-anchor="middle" >300</text>
<line x1="280.69" y1="104.50" x2="280.69" y2="105.60" stroke="#262626" stroke-width="0.5" />
<line x1="288.62" y1="104.50" x2="288.62" y2="106.40" stroke="#262626" stroke-width="0.5" />
<text x="288.62" y="113.00" font-size="6" fill="#262626" text-anchor="middle" >350</text>
<line x1="296.55" y1="104.50" x2="296.55" y2="105.60" stroke="#262626" stroke-width="0.5" />
<line x1="304.48" y1="104.50" x2="304.48" y2="106.40" stroke="#262626" stroke-width="0.5" />
<text x="304.48" y="113.00" font-size="6" fill="#262626" text-anchor="middle" >400</text>
<line x1="312.41" y1="104.50" x2="312.41" y2="105.60" stroke="#262626" stroke-width="0.5" />
<line x1="177.40" y1="104.50" x2="175.50" y2="104.50" stroke="#262626" stroke-width="0.5" />
<line x1="177.40" y1="96.40" x2="176.30" y2="96.40" stroke="#262626" stroke-width="0.5" />
<line x1="177.40" y1="88.30" x2="175.50" y2="88.30" stroke="#262626" stroke-width="0.5" />
<line x1="177.40" y1="80.20" x2="176.30" y2="80.20" stroke="#262626" stroke-width="0.5" />
<line x1="177.40" y1="72.10" x2="175.50" y2="72.10" stroke="#262626" stroke-width="0.5" />
<line x1="177.40" y1="64.00" x2="176.30" y2="64.00" stroke="#262626" stroke-width="0.5" />
<line x1="177.40" y1="55.90" x2="175.50" y2="55.90" stroke="#262626" stroke-width="0.5" />
<line x1="177.40" y1="47.80" x2="176.30" y2="47.80" stroke="#262626" stroke-width="0.5" />
<line x1="177.40" y1="39.70" x2="175.50" y2="39.70" stroke="#262626" stroke-width="0.5" />
<line x1="177.40" y1="31.60" x2="176.30" y2="31.60" stroke="#262626" stroke-width="0.5" />
<line x1="177.40" y1="23.50" x2="175.50" y2="23.50" stroke="#262626" stroke-width="0.5" />
<rect x="177.40" y="136.30" width="137.40" height="81.40" fill="none" stroke="#262626" stroke-width="0.6"/>
<line x1="177.60" y1="217.70" x2="177.60" y2="219.60" stroke="#262626" stroke-width="0.5" />
<text x="177.60" y="226.20" font-size="6" fill="#262626" text-anchor="middle" >0</text>
<line x1="185.53" y1="217.70" x2="185.53" y2="218.80" stroke="#262626" stroke-width="0.5" />
<line x1="193.46" y1="217.70" x2="193.46" y2="219.60" stroke="#262626" stroke-width="0.5" />
<text x="193.46" y="226.20" font-size="6" fill="#262626" text-anchor="middle" >50</text>
<line x1="201.39" y1="217.70" x2="201.39" y2="218.80" stroke="#262626" stroke-width="0.5" />
<line x1="209.32" y1="217.70" x2="209.32" y2="219.60" stroke="#262626" stroke-width="0.5" />
<text x="209.32" y="226.20" font-size="6" fill="#262626" text-anchor="middle" >100</text>
<line x1="217.25" y1="217.70" x2="217.25" y2="218.80" stroke="#262626" stroke-width="0.5" />
<line x1="225.18" y1="217.70" x2="225.18" y2="219.60" stroke="#262626" stroke-width="0.5" />
<text x="225.18" y="226.20" font-size="6" fill="#262626" text-anchor="middle" >150</text>
<line x1="233.11" y1="217.70" x2="233.11" y2="218.80" stroke="#262626" stroke-width="0.5" />
<line x1="241.04" y1="217.70" x2="241.04" y2="219.60" stroke="#262626" stroke-width="0.5" />
<text x="241.04" y="226.20" font-size="6" fill="#262626" text-anchor="middle" >200</text>
<line x1="248.97" y1="217.70" x2="248.97" y2="218.80" stroke="#262626" stroke-width="0.5" />
<line x1="256.90" y1="217.70" x2="256.90" y2="219.60" stroke="#262626" stroke-width="0.5" />
<text x="256.90" y="226.20" font-size="6" fill="#262626" text-anchor="middle" >250</text>
<line x1="264.83" y1="217.70" x2="264.83" y2="218.80" stroke="#262626" stroke-width="0.5" />
<line x1="272.76" y1="217.70" x2="272.76" y2="219.60" stroke="#262626" stroke-width="0.5" />
<text x="272.76" y="226.20" font-size="6" fill="#262626" text-anchor="middle" >300</text>
<line x1="280.69" y1="217.70" x2="280.69" y2="218.80" stroke="#262626" stroke-width="0.5" />
<line x1="288.62" y1="217.70" x2="288.62" y2="219.60" stroke="#262626" stroke-width="0.5" />
<text x="288.62" y="226.20" font-size="6" fill="#262626" text-anchor="middle" >350</text>
<line x1="296.55" y1="217.70" x2="296.55" y2="218.80" stroke="#262626" stroke-width="0.5" />
<line x1="304.48" y1="217.70" x2="304.48" y2="219.60" stroke="#262626" stroke-width="0.5" />
<text x="304.48" y="226.20" font-size="6" fill="#262626" text-anchor="middle" >400</text>
<line x1="312.41" y1="217.70" x2="312.41" y2="218.80" stroke="#262626" stroke-width="0.5" />
<line x1="177.40" y1="217.70" x2="175.50" y2="217.70" stroke="#262626" stroke-width="0.5" />
<line x1="177.40" y1="209.60" x2="176.30" y2="209.60" stroke="#262626" stroke-width="0.5" />
<line x1="177.40" y1="201.50" x2="175.50" y2="201.50" stroke="#262626" stroke-width="0.5" />
<line x1="177.40" y1="193.40" x2="176.30" y2="193.40" stroke="#262626" stroke-width="0.5" />
<line x1="177.40" y1="185.30" x2="175.50" y2="185.30" stroke="#262626" stroke-width="0.5" />
<line x1="177.40" y1="177.20" x2="176.30" y2="177.20" stroke="#262626" stroke-width="0.5" />
<line x1="177.40" y1="169.10" x2="175.50" y2="169.10" stroke="#262626" stroke-width="0.5" />
<line x1="177.40" y1="161.00" x2="176.30" y2="161.00" stroke="#262626" stroke-width="0.5" />
<line x1="177.40" y1="152.90" x2="175.50" y2="152.90" stroke="#262626" stroke-width="0.5" />
<line x1="177.40" y1="144.80" x2="176.30" y2="144.80" stroke="#262626" stroke-width="0.5" />
<line x1="177.40" y1="136.70" x2="175.50" y2="136.70" stroke="#262626" stroke-width="0.5" />
<text x="10.80" y="63.80" font-size="7.7" fill="#262626" text-anchor="middle" textLength="68.7" lengthAdjust="spacingAndGlyphs" transform="rotate(-90 10.80 63.80)" >UTM Distance (m)</text>
<text x="10.80" y="177.00" font-size="7.7" fill="#262626" text-anchor="middle" textLength="68.7" lengthAdjust="spacingAndGlyphs" transform="rotate(-90 10.80 177.00)" >UTM Distance (m)</text>
<text x="96.90" y="234.30" font-size="7.7" fill="#262626" text-anchor="middle" textLength="66" lengthAdjust="spacingAndGlyphs" >UTM Distance (m)</text>
<text x="246.10" y="234.30" font-size="7.7" fill="#262626" text-anchor="middle" textLength="66" lengthAdjust="spacingAndGlyphs" >UTM Distance (m)</text>
<text x="52.60" y="21.00" font-size="7.4" fill="#262626" textLength="88" lengthAdjust="spacingAndGlyphs" >Site A: 14 May 2024 - 14:21</text>
<text x="202.00" y="21.00" font-size="7.4" fill="#262626" textLength="88.5" lengthAdjust="spacingAndGlyphs" >Site B: 14 May 2024 - 14:35</text>
<text x="53.00" y="133.40" font-size="7.4" fill="#262626" textLength="87.6" lengthAdjust="spacingAndGlyphs" >Site A: 04 July 2024 - 12:45</text>
<text x="202.50" y="133.30" font-size="7.4" fill="#262626" textLength="88" lengthAdjust="spacingAndGlyphs" >Site B: 04 July 2024 - 12:54</text>
<text x="4.30" y="13.00" font-size="10.8" fill="#262626" >(a)</text>
<text x="176.50" y="13.00" font-size="10.8" fill="#262626" >(b)</text>
<text x="350.00" y="12.80" font-size="10.8" fill="#262626" >(c)</text>
<text x="4.30" y="129.00" font-size="10.8" fill="#262626" >(d)</text>
<text x="176.50" y="129.00" font-size="10.8" fill="#262626" >(e)</text>
<text x="350.00" y="129.00" font-size="10.8" fill="#262626" >(f)</text>
<rect x="317.60" y="23.40" width="4.4" height="81.10" fill="url(#cb23)" stroke="#262626" stroke-width="0.4"/>
<line x1="322.00" y1="23.80" x2="323.30" y2="23.80" stroke="#262626" stroke-width="0.4" />
<text x="325.70" y="25.50" font-size="4.8" fill="#262626" >30</text>
<line x1="322.00" y1="30.49" x2="322.80" y2="30.49" stroke="#262626" stroke-width="0.3" />
<line x1="322.00" y1="37.18" x2="323.30" y2="37.18" stroke="#262626" stroke-width="0.4" />
<text x="325.70" y="38.88" font-size="4.8" fill="#262626" >20</text>
<line x1="322.00" y1="43.88" x2="322.80" y2="43.88" stroke="#262626" stroke-width="0.3" />
<line x1="322.00" y1="50.57" x2="323.30" y2="50.57" stroke="#262626" stroke-width="0.4" />
<text x="325.70" y="52.27" font-size="4.8" fill="#262626" >10</text>
<line x1="322.00" y1="57.26" x2="322.80" y2="57.26" stroke="#262626" stroke-width="0.3" />
<line x1="322.00" y1="63.95" x2="323.30" y2="63.95" stroke="#262626" stroke-width="0.4" />
<text x="325.70" y="65.65" font-size="4.8" fill="#262626" >0</text>
<line x1="322.00" y1="70.64" x2="322.80" y2="70.64" stroke="#262626" stroke-width="0.3" />
<line x1="322.00" y1="77.33" x2="323.30" y2="77.33" stroke="#262626" stroke-width="0.4" />
<text x="325.70" y="79.03" font-size="4.8" fill="#262626" >−10</text>
<line x1="322.00" y1="84.02" x2="322.80" y2="84.02" stroke="#262626" stroke-width="0.3" />
<line x1="322.00" y1="90.72" x2="323.30" y2="90.72" stroke="#262626" stroke-width="0.4" />
<text x="325.70" y="92.42" font-size="4.8" fill="#262626" >−20</text>
<line x1="322.00" y1="97.41" x2="322.80" y2="97.41" stroke="#262626" stroke-width="0.3" />
<line x1="322.00" y1="104.10" x2="323.30" y2="104.10" stroke="#262626" stroke-width="0.4" />
<text x="325.70" y="105.80" font-size="4.8" fill="#262626" >−30</text>
<rect x="317.60" y="136.50" width="4.4" height="81.20" fill="url(#cb136)" stroke="#262626" stroke-width="0.4"/>
<line x1="322.00" y1="136.90" x2="323.30" y2="136.90" stroke="#262626" stroke-width="0.4" />
<text x="325.70" y="138.60" font-size="4.8" fill="#262626" >10.0</text>
<line x1="322.00" y1="141.93" x2="322.80" y2="141.93" stroke="#262626" stroke-width="0.3" />
<line x1="322.00" y1="146.95" x2="323.30" y2="146.95" stroke="#262626" stroke-width="0.4" />
<text x="325.70" y="148.65" font-size="4.8" fill="#262626" >7.5</text>
<line x1="322.00" y1="151.98" x2="322.80" y2="151.98" stroke="#262626" stroke-width="0.3" />
<line x1="322.00" y1="157.00" x2="323.30" y2="157.00" stroke="#262626" stroke-width="0.4" />
<text x="325.70" y="158.70" font-size="4.8" fill="#262626" >5.0</text>
<line x1="322.00" y1="162.03" x2="322.80" y2="162.03" stroke="#262626" stroke-width="0.3" />
<line x1="322.00" y1="167.05" x2="323.30" y2="167.05" stroke="#262626" stroke-width="0.4" />
<text x="325.70" y="168.75" font-size="4.8" fill="#262626" >2.5</text>
<line x1="322.00" y1="172.08" x2="322.80" y2="172.08" stroke="#262626" stroke-width="0.3" />
<line x1="322.00" y1="177.10" x2="323.30" y2="177.10" stroke="#262626" stroke-width="0.4" />
<text x="325.70" y="178.80" font-size="4.8" fill="#262626" >0.0</text>
<line x1="322.00" y1="182.13" x2="322.80" y2="182.13" stroke="#262626" stroke-width="0.3" />
<line x1="322.00" y1="187.15" x2="323.30" y2="187.15" stroke="#262626" stroke-width="0.4" />
<text x="325.70" y="188.85" font-size="4.8" fill="#262626" >−2.5</text>
<line x1="322.00" y1="192.18" x2="322.80" y2="192.18" stroke="#262626" stroke-width="0.3" />
<line x1="322.00" y1="197.20" x2="323.30" y2="197.20" stroke="#262626" stroke-width="0.4" />
<text x="325.70" y="198.90" font-size="4.8" fill="#262626" >−5.0</text>
<line x1="322.00" y1="202.23" x2="322.80" y2="202.23" stroke="#262626" stroke-width="0.3" />
<line x1="322.00" y1="207.25" x2="323.30" y2="207.25" stroke="#262626" stroke-width="0.4" />
<text x="325.70" y="208.95" font-size="4.8" fill="#262626" >−7.5</text>
<line x1="322.00" y1="212.28" x2="322.80" y2="212.28" stroke="#262626" stroke-width="0.3" />
<line x1="322.00" y1="217.30" x2="323.30" y2="217.30" stroke="#262626" stroke-width="0.4" />
<text x="325.70" y="219.00" font-size="4.8" fill="#262626" >−10.0</text>
<text x="342.30" y="62.00" font-size="6.6" fill="#262626" text-anchor="middle" textLength="63" lengthAdjust="spacingAndGlyphs" transform="rotate(-90 342.30 62.00)" ><tspan font-style="italic">h</tspan><tspan font-style="italic" font-size="4.62" dy="1.19">camera</tspan><tspan dy="-1.19"> − </tspan><tspan font-style="italic">h</tspan><tspan font-style="italic" font-size="4.62" dy="1.19">model</tspan><tspan font-style="italic" dy="-1.19">(cm)</tspan></text>
<text x="342.30" y="175.00" font-size="6.6" fill="#262626" text-anchor="middle" textLength="63" lengthAdjust="spacingAndGlyphs" transform="rotate(-90 342.30 175.00)" ><tspan font-style="italic">h</tspan><tspan font-style="italic" font-size="4.62" dy="1.19">camera</tspan><tspan dy="-1.19"> − </tspan><tspan font-style="italic">h</tspan><tspan font-style="italic" font-size="4.62" dy="1.19">model</tspan><tspan font-style="italic" dy="-1.19">(cm)</tspan></text>
<line x1="401.70" y1="25.30" x2="401.70" y2="107.30" stroke="#999999" stroke-width="0.6" />
<polyline points="373.50,107.20 390.00,107.10 395.00,107.10 402.60,104.10 410.20,99.50 417.70,95.00 425.30,90.50 432.90,87.40 440.50,83.60 445.00,81.40 450.00,78.30 452.20,74.30 458.20,68.30 459.80,65.90 460.60,63.50 465.30,61.10 467.70,58.70 472.50,55.10 473.70,53.90 474.20,47.90 475.60,45.60 475.60,40.80 480.90,40.00 491.60,37.20 492.40,31.20 492.60,29.40 494.00,29.40" fill="none" stroke="#d2691e" stroke-opacity="0.8" stroke-width="1.4" stroke-linejoin="round"/>
<polyline points="373.50,107.20 390.00,107.10 395.00,107.00 402.60,105.20 410.20,101.10 417.70,95.80 423.80,91.20 427.60,86.70 430.60,82.10 432.90,79.10 434.40,73.80 435.20,72.30 440.50,69.50 445.00,62.80 447.40,60.30 447.70,52.50 449.20,51.50 449.60,45.20 454.60,44.00 459.40,42.00 466.50,39.60 467.30,36.00 467.60,29.40 494.00,29.40" fill="none" stroke="#228b22" stroke-opacity="0.75" stroke-width="1.4" stroke-linejoin="round"/>
<line x1="441.20" y1="25.30" x2="441.20" y2="107.30" stroke="#3a3a3a" stroke-width="0.9" stroke-dasharray="1.8,1.0"/>
<line x1="460.50" y1="25.30" x2="460.50" y2="107.30" stroke="#3a3a3a" stroke-width="0.9" stroke-dasharray="1.8,1.0"/>
<rect x="373.30" y="25.30" width="121.00" height="82.00" fill="none" stroke="#262626" stroke-width="0.6"/>
<line x1="391.88" y1="107.30" x2="391.88" y2="108.80" stroke="#262626" stroke-width="0.6" />
<line x1="411.52" y1="107.30" x2="411.52" y2="108.80" stroke="#262626" stroke-width="0.6" />
<line x1="431.18" y1="107.30" x2="431.18" y2="108.80" stroke="#262626" stroke-width="0.6" />
<line x1="450.82" y1="107.30" x2="450.82" y2="108.80" stroke="#262626" stroke-width="0.6" />
<line x1="470.48" y1="107.30" x2="470.48" y2="108.80" stroke="#262626" stroke-width="0.6" />
<line x1="490.12" y1="107.30" x2="490.12" y2="108.80" stroke="#262626" stroke-width="0.6" />
<line x1="382.05" y1="107.30" x2="382.05" y2="109.70" stroke="#262626" stroke-width="0.6" />
<text x="382.05" y="117.30" font-size="6.2" fill="#262626" text-anchor="middle" >-10</text>
<line x1="401.70" y1="107.30" x2="401.70" y2="109.70" stroke="#262626" stroke-width="0.6" />
<text x="401.70" y="117.30" font-size="6.2" fill="#262626" text-anchor="middle" >0</text>
<line x1="421.35" y1="107.30" x2="421.35" y2="109.70" stroke="#262626" stroke-width="0.6" />
<text x="421.35" y="117.30" font-size="6.2" fill="#262626" text-anchor="middle" >10</text>
<line x1="441.00" y1="107.30" x2="441.00" y2="109.70" stroke="#262626" stroke-width="0.6" />
<text x="441.00" y="117.30" font-size="6.2" fill="#262626" text-anchor="middle" >20</text>
<line x1="460.65" y1="107.30" x2="460.65" y2="109.70" stroke="#262626" stroke-width="0.6" />
<text x="460.65" y="117.30" font-size="6.2" fill="#262626" text-anchor="middle" >30</text>
<line x1="480.30" y1="107.30" x2="480.30" y2="109.70" stroke="#262626" stroke-width="0.6" />
<text x="480.30" y="117.30" font-size="6.2" fill="#262626" text-anchor="middle" >40</text>
<line x1="373.30" y1="107.30" x2="370.80" y2="107.30" stroke="#262626" stroke-width="0.6" />
<text x="368.30" y="109.60" font-size="6.4" fill="#262626" text-anchor="end" >0.0</text>
<line x1="373.30" y1="99.52" x2="371.80" y2="99.52" stroke="#262626" stroke-width="0.6" />
<line x1="373.30" y1="91.74" x2="370.80" y2="91.74" stroke="#262626" stroke-width="0.6" />
<text x="368.30" y="94.04" font-size="6.4" fill="#262626" text-anchor="end" >0.2</text>
<line x1="373.30" y1="83.96" x2="371.80" y2="83.96" stroke="#262626" stroke-width="0.6" />
<line x1="373.30" y1="76.18" x2="370.80" y2="76.18" stroke="#262626" stroke-width="0.6" />
<text x="368.30" y="78.48" font-size="6.4" fill="#262626" text-anchor="end" >0.4</text>
<line x1="373.30" y1="68.40" x2="371.80" y2="68.40" stroke="#262626" stroke-width="0.6" />
<line x1="373.30" y1="60.62" x2="370.80" y2="60.62" stroke="#262626" stroke-width="0.6" />
<text x="368.30" y="62.92" font-size="6.4" fill="#262626" text-anchor="end" >0.6</text>
<line x1="373.30" y1="52.84" x2="371.80" y2="52.84" stroke="#262626" stroke-width="0.6" />
<line x1="373.30" y1="45.06" x2="370.80" y2="45.06" stroke="#262626" stroke-width="0.6" />
<text x="368.30" y="47.36" font-size="6.4" fill="#262626" text-anchor="end" >0.8</text>
<line x1="373.30" y1="37.28" x2="371.80" y2="37.28" stroke="#262626" stroke-width="0.6" />
<line x1="373.30" y1="29.50" x2="370.80" y2="29.50" stroke="#262626" stroke-width="0.6" />
<text x="368.30" y="31.80" font-size="6.4" fill="#262626" text-anchor="end" >1.0</text>
<text x="445.60" y="106.20" font-size="4.1" fill="#2e8b2e" textLength="35" lengthAdjust="spacingAndGlyphs" transform="rotate(-90 445.60 106.20)" >median = 20.4 cm</text>
<text x="465.30" y="106.20" font-size="4.1" fill="#c8692a" textLength="35" lengthAdjust="spacingAndGlyphs" transform="rotate(-90 465.30 106.20)" >median = 29.7 cm</text>
<text x="356.60" y="66.50" font-size="7.0" fill="#262626" text-anchor="middle" textLength="66" lengthAdjust="spacingAndGlyphs" transform="rotate(-90 356.60 66.50)" >Cumulative Fraction</text>
<text x="433.80" y="125.20" font-size="7.0" fill="#262626" text-anchor="middle" textLength="63" lengthAdjust="spacingAndGlyphs" ><tspan font-style="italic">h</tspan><tspan font-style="italic" font-size="4.90" dy="1.26">camera</tspan><tspan dy="-1.26"> − </tspan><tspan font-style="italic">h</tspan><tspan font-style="italic" font-size="4.90" dy="1.26">model</tspan><tspan font-style="italic" dy="-1.26">(cm)</tspan></text>
<line x1="454.40" y1="137.30" x2="454.40" y2="219.30" stroke="#999999" stroke-width="0.6" />
<polyline points="373.50,218.60 386.40,217.20 399.80,215.20 410.50,213.10 418.60,211.40 423.90,209.40 429.30,207.40 433.30,204.10 435.30,201.40 436.00,198.70 436.30,190.00 436.50,167.00 438.60,166.60 438.70,151.00 440.20,150.60 440.30,141.30 494.00,141.30" fill="none" stroke="#d2691e" stroke-opacity="0.8" stroke-width="1.4" stroke-linejoin="round"/>
<polyline points="373.50,218.60 393.10,217.50 413.20,215.70 426.60,213.90 438.00,211.90 444.40,210.30 450.70,207.90 454.70,206.30 458.70,203.90 461.90,201.50 464.30,199.10 464.80,197.50 464.80,184.00 465.90,183.20 466.40,170.00 466.60,146.00 467.30,143.00 468.80,141.50 471.00,141.10 494.00,141.10" fill="none" stroke="#228b22" stroke-opacity="0.75" stroke-width="1.4" stroke-linejoin="round"/>
<line x1="437.20" y1="137.30" x2="437.20" y2="219.30" stroke="#3a3a3a" stroke-width="0.9" stroke-dasharray="1.8,1.0"/>
<line x1="467.20" y1="137.30" x2="467.20" y2="219.30" stroke="#3a3a3a" stroke-width="0.9" stroke-dasharray="1.8,1.0"/>
<rect x="373.30" y="137.30" width="121.00" height="82.00" fill="none" stroke="#262626" stroke-width="0.6"/>
<line x1="381.50" y1="219.30" x2="381.50" y2="220.80" stroke="#262626" stroke-width="0.6" />
<line x1="397.70" y1="219.30" x2="397.70" y2="220.80" stroke="#262626" stroke-width="0.6" />
<line x1="413.90" y1="219.30" x2="413.90" y2="220.80" stroke="#262626" stroke-width="0.6" />
<line x1="430.10" y1="219.30" x2="430.10" y2="220.80" stroke="#262626" stroke-width="0.6" />
<line x1="446.30" y1="219.30" x2="446.30" y2="220.80" stroke="#262626" stroke-width="0.6" />
<line x1="462.50" y1="219.30" x2="462.50" y2="220.80" stroke="#262626" stroke-width="0.6" />
<line x1="478.70" y1="219.30" x2="478.70" y2="220.80" stroke="#262626" stroke-width="0.6" />
<line x1="373.40" y1="219.30" x2="373.40" y2="221.70" stroke="#262626" stroke-width="0.6" />
<text x="373.40" y="229.30" font-size="6.2" fill="#262626" text-anchor="middle" >-5.0</text>
<line x1="389.60" y1="219.30" x2="389.60" y2="221.70" stroke="#262626" stroke-width="0.6" />
<text x="389.60" y="229.30" font-size="6.2" fill="#262626" text-anchor="middle" >-4.0</text>
<line x1="405.80" y1="219.30" x2="405.80" y2="221.70" stroke="#262626" stroke-width="0.6" />
<text x="405.80" y="229.30" font-size="6.2" fill="#262626" text-anchor="middle" >-3.0</text>
<line x1="422.00" y1="219.30" x2="422.00" y2="221.70" stroke="#262626" stroke-width="0.6" />
<text x="422.00" y="229.30" font-size="6.2" fill="#262626" text-anchor="middle" >-2.0</text>
<line x1="438.20" y1="219.30" x2="438.20" y2="221.70" stroke="#262626" stroke-width="0.6" />
<text x="438.20" y="229.30" font-size="6.2" fill="#262626" text-anchor="middle" >-1.0</text>
<line x1="454.40" y1="219.30" x2="454.40" y2="221.70" stroke="#262626" stroke-width="0.6" />
<text x="454.40" y="229.30" font-size="6.2" fill="#262626" text-anchor="middle" >0.0</text>
<line x1="470.60" y1="219.30" x2="470.60" y2="221.70" stroke="#262626" stroke-width="0.6" />
<text x="470.60" y="229.30" font-size="6.2" fill="#262626" text-anchor="middle" >1.0</text>
<line x1="486.80" y1="219.30" x2="486.80" y2="221.70" stroke="#262626" stroke-width="0.6" />
<text x="486.80" y="229.30" font-size="6.2" fill="#262626" text-anchor="middle" >2.0</text>
<line x1="373.30" y1="219.30" x2="370.80" y2="219.30" stroke="#262626" stroke-width="0.6" />
<text x="368.30" y="221.60" font-size="6.4" fill="#262626" text-anchor="end" >0.0</text>
<line x1="373.30" y1="211.46" x2="371.80" y2="211.46" stroke="#262626" stroke-width="0.6" />
<line x1="373.30" y1="203.62" x2="370.80" y2="203.62" stroke="#262626" stroke-width="0.6" />
<text x="368.30" y="205.92" font-size="6.4" fill="#262626" text-anchor="end" >0.2</text>
<line x1="373.30" y1="195.78" x2="371.80" y2="195.78" stroke="#262626" stroke-width="0.6" />
<line x1="373.30" y1="187.94" x2="370.80" y2="187.94" stroke="#262626" stroke-width="0.6" />
<text x="368.30" y="190.24" font-size="6.4" fill="#262626" text-anchor="end" >0.4</text>
<line x1="373.30" y1="180.10" x2="371.80" y2="180.10" stroke="#262626" stroke-width="0.6" />
<line x1="373.30" y1="172.26" x2="370.80" y2="172.26" stroke="#262626" stroke-width="0.6" />
<text x="368.30" y="174.56" font-size="6.4" fill="#262626" text-anchor="end" >0.6</text>
<line x1="373.30" y1="164.42" x2="371.80" y2="164.42" stroke="#262626" stroke-width="0.6" />
<line x1="373.30" y1="156.58" x2="370.80" y2="156.58" stroke="#262626" stroke-width="0.6" />
<text x="368.30" y="158.88" font-size="6.4" fill="#262626" text-anchor="end" >0.8</text>
<line x1="373.30" y1="148.74" x2="371.80" y2="148.74" stroke="#262626" stroke-width="0.6" />
<line x1="373.30" y1="140.90" x2="370.80" y2="140.90" stroke="#262626" stroke-width="0.6" />
<text x="368.30" y="143.20" font-size="6.4" fill="#262626" text-anchor="end" >1.0</text>
<text x="441.10" y="218.60" font-size="4.1" fill="#c8692a" textLength="35" lengthAdjust="spacingAndGlyphs" transform="rotate(-90 441.10 218.60)" >median = -1.0 cm</text>
<text x="471.10" y="218.60" font-size="4.1" fill="#2e8b2e" textLength="35" lengthAdjust="spacingAndGlyphs" transform="rotate(-90 471.10 218.60)" >median = 0.8 cm</text>
<text x="356.60" y="178.50" font-size="7.0" fill="#262626" text-anchor="middle" textLength="66" lengthAdjust="spacingAndGlyphs" transform="rotate(-90 356.60 178.50)" >Cumulative Fraction</text>
<text x="433.80" y="237.00" font-size="7.0" fill="#262626" text-anchor="middle" textLength="63" lengthAdjust="spacingAndGlyphs" ><tspan font-style="italic">h</tspan><tspan font-style="italic" font-size="4.90" dy="1.26">camera</tspan><tspan dy="-1.26"> − </tspan><tspan font-style="italic">h</tspan><tspan font-style="italic" font-size="4.90" dy="1.26">model</tspan><tspan font-style="italic" dy="-1.26">(cm)</tspan></text>
<rect x="29.10" y="240.00" width="12.60" height="4.80" fill="#228b22" />
<text x="46.40" y="245.20" font-size="6.6" fill="#262626" textLength="44.8" lengthAdjust="spacingAndGlyphs" >Camera A Only</text>
<rect x="102.60" y="240.00" width="12.60" height="4.80" fill="#800080" />
<text x="119.90" y="245.20" font-size="6.6" fill="#262626" textLength="33" lengthAdjust="spacingAndGlyphs" >Model Only</text>
<rect x="178.80" y="240.00" width="12.60" height="4.80" fill="#d2691e" />
<text x="196.10" y="245.20" font-size="6.6" fill="#262626" textLength="44.8" lengthAdjust="spacingAndGlyphs" >Camera B Only</text>
<rect x="252.20" y="240.00" width="12.60" height="4.80" fill="#800080" />
<text x="269.50" y="245.20" font-size="6.6" fill="#262626" textLength="33" lengthAdjust="spacingAndGlyphs" >Model Only</text></svg>
</body></html>
